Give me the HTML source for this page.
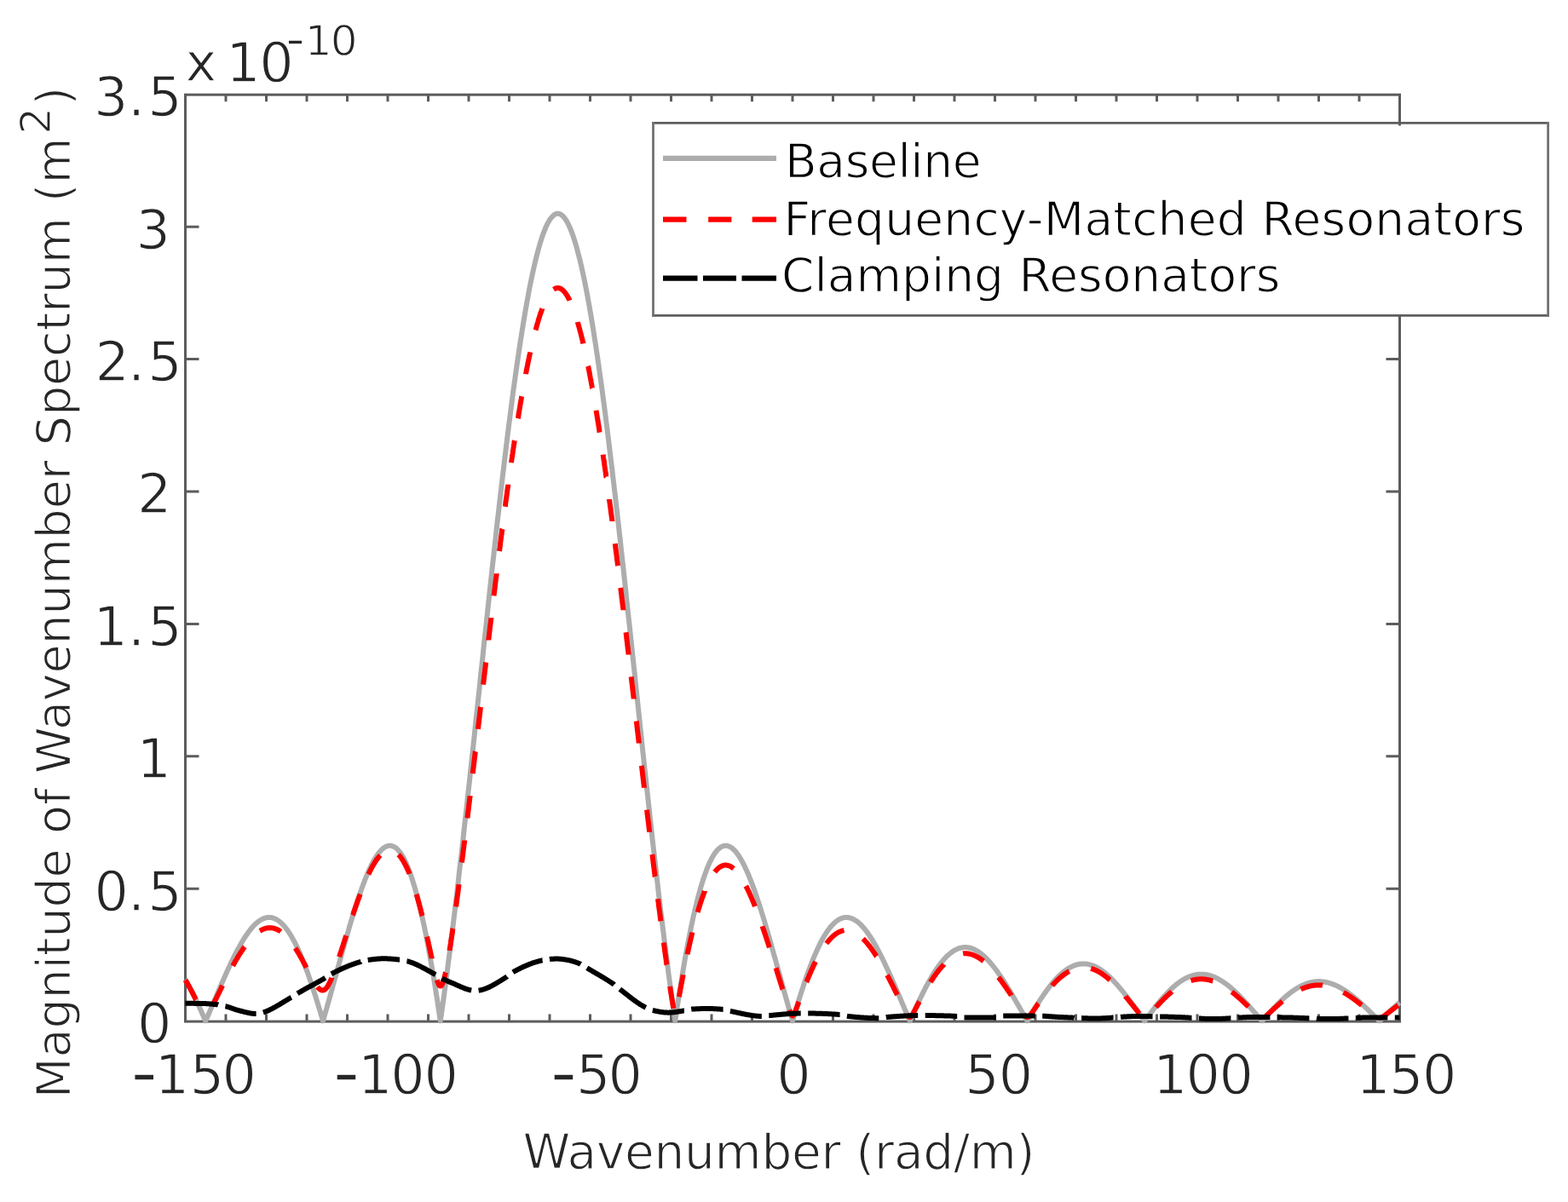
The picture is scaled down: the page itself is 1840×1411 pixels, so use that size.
<!DOCTYPE html>
<html><head><meta charset="utf-8"><title>Wavenumber spectrum</title><style>
html,body{margin:0;padding:0;background:#fff;}
svg{display:block;}
text{font-family:"DejaVu Sans","Liberation Sans",sans-serif;fill:#262626;stroke:#fff;stroke-width:1.3px;}
.lg text{fill:#000;}
</style></head><body>
<svg width="1840" height="1411" viewBox="0 0 1840 1411">
<rect width="1840" height="1411" fill="#fff"/>
<defs><clipPath id="ax"><rect x="214.5" y="108" width="1431" height="1093.6"/></clipPath></defs>
<path d="M265.0,1199.5V1190.5 M265.0,110.5V119.3 M312.5,1199.5V1190.5 M312.5,110.5V119.3 M360.0,1199.5V1190.5 M360.0,110.5V119.3 M407.5,1199.5V1190.5 M407.5,110.5V119.3 M455.0,1199.5V1190.5 M455.0,110.5V119.3 M502.5,1199.5V1190.5 M502.5,110.5V119.3 M550.0,1199.5V1190.5 M550.0,110.5V119.3 M597.5,1199.5V1190.5 M597.5,110.5V119.3 M645.0,1199.5V1190.5 M645.0,110.5V119.3 M692.5,1199.5V1190.5 M692.5,110.5V119.3 M740.0,1199.5V1190.5 M740.0,110.5V119.3 M787.5,1199.5V1190.5 M787.5,110.5V119.3 M835.0,1199.5V1190.5 M835.0,110.5V119.3 M882.5,1199.5V1190.5 M882.5,110.5V119.3 M930.0,1199.5V1190.5 M930.0,110.5V119.3 M977.5,1199.5V1190.5 M977.5,110.5V119.3 M1025.0,1199.5V1190.5 M1025.0,110.5V119.3 M1072.5,1199.5V1190.5 M1072.5,110.5V119.3 M1120.0,1199.5V1190.5 M1120.0,110.5V119.3 M1167.5,1199.5V1190.5 M1167.5,110.5V119.3 M1215.0,1199.5V1190.5 M1215.0,110.5V119.3 M1262.5,1199.5V1190.5 M1262.5,110.5V119.3 M1310.0,1199.5V1190.5 M1310.0,110.5V119.3 M1357.5,1199.5V1190.5 M1357.5,110.5V119.3 M1405.0,1199.5V1190.5 M1405.0,110.5V119.3 M1452.5,1199.5V1190.5 M1452.5,110.5V119.3 M1500.0,1199.5V1190.5 M1500.0,110.5V119.3 M1547.5,1199.5V1190.5 M1547.5,110.5V119.3 M1595.0,1199.5V1190.5 M1595.0,110.5V119.3 M217.0,1043.2H233.5 M1643.0,1043.2H1626.5 M217.0,887.8H233.5 M1643.0,887.8H1626.5 M217.0,732.4H233.5 M1643.0,732.4H1626.5 M217.0,577.0H233.5 M1643.0,577.0H1626.5 M217.0,421.6H233.5 M1643.0,421.6H1626.5 M217.0,266.3H233.5 M1643.0,266.3H1626.5" stroke="#5c5c5c" stroke-width="3" fill="none"/>
<rect x="217.5" y="111.2" width="1425" height="1087.9" fill="none" stroke="#5c5c5c" stroke-width="3"/>
<g clip-path="url(#ax)" fill="none" stroke-linejoin="round">
<path d="M217.5,1149.6 218.4,1151.2 219.4,1152.9 220.3,1154.7 221.3,1156.4 222.2,1158.2 223.2,1160.0 224.2,1161.9 225.1,1163.8 226.1,1165.6 227.0,1167.6 227.9,1169.5 228.9,1171.5 229.8,1173.4 230.8,1175.4 231.8,1177.5 232.7,1179.5 233.7,1181.6 234.6,1183.6 235.6,1185.7 236.5,1187.8 237.4,1190.0 238.4,1192.1 239.3,1194.3 240.3,1196.4 241.2,1198.6 242.2,1196.4 243.2,1194.2 244.1,1192.0 245.1,1189.8 246.0,1187.6 246.9,1185.4 247.9,1183.2 248.8,1180.9 249.8,1178.7 250.8,1176.5 251.7,1174.2 252.7,1172.0 253.6,1169.8 254.6,1167.6 255.5,1165.3 256.4,1163.1 257.4,1160.9 258.3,1158.7 259.3,1156.5 260.2,1154.3 261.2,1152.2 262.2,1150.0 263.1,1147.8 264.1,1145.7 265.0,1143.6 265.9,1141.5 266.9,1139.4 267.8,1137.3 268.8,1135.3 269.8,1133.2 270.7,1131.2 271.7,1129.2 272.6,1127.3 273.6,1125.3 274.5,1123.4 275.4,1121.5 276.4,1119.6 277.3,1117.8 278.3,1116.0 279.2,1114.2 280.2,1112.4 281.2,1110.7 282.1,1109.0 283.1,1107.4 284.0,1105.8 284.9,1104.2 285.9,1102.6 286.8,1101.1 287.8,1099.6 288.8,1098.2 289.7,1096.8 290.7,1095.5 291.6,1094.1 292.6,1092.9 293.5,1091.6 294.4,1090.5 295.4,1089.3 296.3,1088.2 297.3,1087.2 298.2,1086.2 299.2,1085.2 300.2,1084.3 301.1,1083.5 302.1,1082.7 303.0,1081.9 303.9,1081.2 304.9,1080.6 305.8,1080.0 306.8,1079.4 307.8,1078.9 308.7,1078.5 309.7,1078.1 310.6,1077.8 311.6,1077.5 312.5,1077.3 313.4,1077.1 314.4,1077.0 315.3,1076.9 316.3,1076.9 317.2,1077.0 318.2,1077.1 319.2,1077.3 320.1,1077.5 321.1,1077.8 322.0,1078.2 323.0,1078.6 323.9,1079.0 324.8,1079.6 325.8,1080.2 326.8,1080.8 327.7,1081.5 328.7,1082.3 329.6,1083.1 330.5,1084.0 331.5,1084.9 332.5,1085.9 333.4,1087.0 334.3,1088.1 335.3,1089.3 336.2,1090.5 337.2,1091.8 338.2,1093.2 339.1,1094.6 340.0,1096.0 341.0,1097.6 342.0,1099.1 342.9,1100.8 343.8,1102.5 344.8,1104.2 345.8,1106.0 346.7,1107.9 347.7,1109.8 348.6,1111.8 349.5,1113.8 350.5,1115.9 351.5,1118.0 352.4,1120.2 353.3,1122.4 354.3,1124.7 355.2,1127.0 356.2,1129.4 357.2,1131.8 358.1,1134.3 359.0,1136.8 360.0,1139.3 361.0,1141.9 361.9,1144.6 362.8,1147.3 363.8,1150.0 364.8,1152.8 365.7,1155.6 366.7,1158.5 367.6,1161.4 368.5,1164.3 369.5,1167.3 370.5,1170.2 371.4,1173.3 372.3,1176.3 373.3,1179.4 374.2,1182.6 375.2,1185.7 376.2,1188.9 377.1,1192.1 378.1,1195.3 379.0,1198.6 380.0,1195.3 380.9,1192.0 381.8,1188.7 382.8,1185.4 383.8,1182.0 384.7,1178.6 385.7,1175.2 386.6,1171.8 387.6,1168.4 388.5,1165.0 389.5,1161.6 390.4,1158.1 391.3,1154.7 392.3,1151.3 393.2,1147.8 394.2,1144.4 395.2,1140.9 396.1,1137.5 397.1,1134.0 398.0,1130.6 399.0,1127.1 399.9,1123.7 400.8,1120.3 401.8,1116.9 402.8,1113.5 403.7,1110.1 404.7,1106.7 405.6,1103.4 406.6,1100.1 407.5,1096.8 408.5,1093.5 409.4,1090.2 410.3,1087.0 411.3,1083.8 412.2,1080.6 413.2,1077.5 414.2,1074.4 415.1,1071.3 416.1,1068.2 417.0,1065.2 418.0,1062.3 418.9,1059.3 419.8,1056.4 420.8,1053.6 421.8,1050.8 422.7,1048.0 423.7,1045.3 424.6,1042.7 425.6,1040.1 426.5,1037.5 427.5,1035.1 428.4,1032.6 429.3,1030.2 430.3,1027.9 431.2,1025.7 432.2,1023.5 433.2,1021.3 434.1,1019.3 435.1,1017.3 436.0,1015.3 437.0,1013.5 437.9,1011.7 438.8,1009.9 439.8,1008.3 440.8,1006.7 441.7,1005.2 442.7,1003.8 443.6,1002.5 444.6,1001.2 445.5,1000.0 446.5,998.9 447.4,997.9 448.3,997.0 449.3,996.2 450.2,995.4 451.2,994.8 452.2,994.2 453.1,993.7 454.1,993.3 455.0,993.0 456.0,992.8 456.9,992.7 457.8,992.7 458.8,992.8 459.8,993.0 460.7,993.3 461.7,993.6 462.6,994.1 463.6,994.7 464.5,995.4 465.5,996.2 466.4,997.1 467.3,998.1 468.3,999.2 469.2,1000.4 470.2,1001.7 471.2,1003.1 472.1,1004.6 473.1,1006.3 474.0,1008.0 474.9,1009.9 475.9,1011.8 476.8,1013.9 477.8,1016.1 478.8,1018.4 479.7,1020.8 480.7,1023.3 481.6,1025.9 482.6,1028.6 483.5,1031.5 484.4,1034.4 485.4,1037.5 486.3,1040.6 487.3,1043.9 488.2,1047.3 489.2,1050.8 490.2,1054.4 491.1,1058.1 492.1,1062.0 493.0,1065.9 493.9,1070.0 494.9,1074.1 495.8,1078.4 496.8,1082.8 497.8,1087.3 498.7,1091.9 499.7,1096.6 500.6,1101.4 501.6,1106.3 502.5,1111.3 503.4,1116.4 504.4,1121.6 505.3,1127.0 506.3,1132.4 507.2,1137.9 508.2,1143.6 509.2,1149.3 510.1,1155.1 511.1,1161.0 512.0,1167.1 513.0,1173.2 513.9,1179.4 514.8,1185.7 515.8,1192.1 516.8,1198.6 517.7,1192.0 518.7,1185.3 519.6,1178.6 520.6,1171.7 521.5,1164.8 522.5,1157.8 523.4,1150.7 524.4,1143.5 525.3,1136.3 526.2,1128.9 527.2,1121.5 528.2,1114.0 529.1,1106.5 530.0,1098.8 531.0,1091.1 532.0,1083.4 532.9,1075.5 533.9,1067.6 534.8,1059.7 535.8,1051.6 536.7,1043.6 537.7,1035.4 538.6,1027.2 539.5,1018.9 540.5,1010.6 541.5,1002.3 542.4,993.9 543.4,985.4 544.3,976.9 545.2,968.4 546.2,959.8 547.2,951.2 548.1,942.5 549.0,933.8 550.0,925.1 551.0,916.3 551.9,907.5 552.9,898.7 553.8,889.9 554.8,881.0 555.7,872.2 556.7,863.3 557.6,854.4 558.5,845.4 559.5,836.5 560.5,827.5 561.4,818.6 562.4,809.6 563.3,800.7 564.2,791.7 565.2,782.8 566.2,773.8 567.1,764.9 568.0,755.9 569.0,747.0 570.0,738.1 570.9,729.2 571.9,720.3 572.8,711.5 573.8,702.7 574.7,693.9 575.7,685.1 576.6,676.3 577.5,667.6 578.5,658.9 579.5,650.3 580.4,641.7 581.4,633.1 582.3,624.6 583.2,616.1 584.2,607.7 585.2,599.3 586.1,591.0 587.1,582.7 588.0,574.5 589.0,566.4 589.9,558.3 590.9,550.3 591.8,542.3 592.8,534.4 593.7,526.6 594.7,518.8 595.6,511.1 596.6,503.5 597.5,496.0 598.5,488.6 599.4,481.2 600.4,473.9 601.3,466.8 602.2,459.7 603.2,452.6 604.2,445.7 605.1,438.9 606.1,432.2 607.0,425.5 608.0,419.0 608.9,412.6 609.9,406.3 610.8,400.0 611.8,393.9 612.7,387.9 613.7,382.0 614.6,376.2 615.6,370.6 616.5,365.0 617.5,359.6 618.4,354.2 619.4,349.0 620.3,343.9 621.2,339.0 622.2,334.2 623.2,329.4 624.1,324.9 625.1,320.4 626.0,316.1 627.0,311.9 627.9,307.8 628.9,303.9 629.8,300.1 630.8,296.4 631.7,292.9 632.7,289.5 633.6,286.2 634.6,283.1 635.5,280.1 636.5,277.3 637.4,274.6 638.4,272.0 639.3,269.6 640.2,267.3 641.2,265.2 642.2,263.2 643.1,261.4 644.1,259.7 645.0,258.1 646.0,256.7 646.9,255.5 647.9,254.4 648.8,253.4 649.8,252.6 650.7,251.9 651.7,251.4 652.6,251.0 653.6,250.8 654.5,250.7 655.5,250.8 656.4,251.0 657.4,251.4 658.3,251.9 659.2,252.6 660.2,253.4 661.2,254.4 662.1,255.5 663.1,256.7 664.0,258.1 665.0,259.7 665.9,261.4 666.9,263.2 667.8,265.2 668.8,267.3 669.7,269.6 670.7,272.0 671.6,274.6 672.6,277.3 673.5,280.1 674.5,283.1 675.4,286.2 676.4,289.5 677.3,292.9 678.2,296.4 679.2,300.1 680.2,303.9 681.1,307.8 682.1,311.9 683.0,316.1 684.0,320.4 684.9,324.9 685.9,329.4 686.8,334.2 687.8,339.0 688.7,343.9 689.7,349.0 690.6,354.2 691.6,359.6 692.5,365.0 693.5,370.6 694.4,376.2 695.4,382.0 696.3,387.9 697.2,393.9 698.2,400.0 699.2,406.3 700.1,412.6 701.1,419.0 702.0,425.5 703.0,432.2 703.9,438.9 704.9,445.7 705.8,452.6 706.8,459.7 707.7,466.8 708.7,473.9 709.6,481.2 710.6,488.6 711.5,496.0 712.5,503.5 713.4,511.1 714.4,518.8 715.3,526.6 716.2,534.4 717.2,542.3 718.2,550.3 719.1,558.3 720.1,566.4 721.0,574.5 722.0,582.7 722.9,591.0 723.9,599.3 724.8,607.7 725.8,616.1 726.7,624.6 727.7,633.1 728.6,641.7 729.6,650.3 730.5,658.9 731.5,667.6 732.4,676.3 733.4,685.1 734.3,693.9 735.2,702.7 736.2,711.5 737.1,720.3 738.1,729.2 739.1,738.1 740.0,747.0 741.0,755.9 741.9,764.9 742.9,773.8 743.8,782.8 744.8,791.7 745.7,800.7 746.6,809.6 747.6,818.6 748.6,827.5 749.5,836.5 750.5,845.4 751.4,854.4 752.4,863.3 753.3,872.2 754.2,881.0 755.2,889.9 756.1,898.7 757.1,907.5 758.1,916.3 759.0,925.1 760.0,933.8 760.9,942.5 761.9,951.2 762.8,959.8 763.8,968.4 764.7,976.9 765.6,985.4 766.6,993.9 767.6,1002.3 768.5,1010.6 769.5,1018.9 770.4,1027.2 771.4,1035.4 772.3,1043.6 773.2,1051.6 774.2,1059.7 775.1,1067.6 776.1,1075.5 777.1,1083.4 778.0,1091.1 779.0,1098.8 779.9,1106.5 780.9,1114.0 781.8,1121.5 782.8,1128.9 783.7,1136.3 784.6,1143.5 785.6,1150.7 786.6,1157.8 787.5,1164.8 788.5,1171.7 789.4,1178.6 790.4,1185.3 791.3,1192.0 792.2,1198.6 793.2,1192.1 794.1,1185.7 795.1,1179.4 796.1,1173.2 797.0,1167.1 798.0,1161.0 798.9,1155.1 799.9,1149.3 800.8,1143.6 801.8,1137.9 802.7,1132.4 803.6,1127.0 804.6,1121.6 805.6,1116.4 806.5,1111.3 807.5,1106.3 808.4,1101.4 809.4,1096.6 810.3,1091.9 811.2,1087.3 812.2,1082.8 813.1,1078.4 814.1,1074.1 815.1,1070.0 816.0,1065.9 817.0,1062.0 817.9,1058.1 818.9,1054.4 819.8,1050.8 820.8,1047.3 821.7,1043.9 822.6,1040.6 823.6,1037.5 824.6,1034.4 825.5,1031.5 826.5,1028.6 827.4,1025.9 828.4,1023.3 829.3,1020.8 830.2,1018.4 831.2,1016.1 832.1,1013.9 833.1,1011.8 834.1,1009.9 835.0,1008.0 836.0,1006.3 836.9,1004.6 837.9,1003.1 838.8,1001.7 839.8,1000.4 840.7,999.2 841.6,998.1 842.6,997.1 843.6,996.2 844.5,995.4 845.5,994.7 846.4,994.1 847.4,993.6 848.3,993.3 849.2,993.0 850.2,992.8 851.1,992.7 852.1,992.7 853.1,992.8 854.0,993.0 855.0,993.3 855.9,993.7 856.9,994.2 857.8,994.8 858.8,995.4 859.7,996.2 860.6,997.0 861.6,997.9 862.6,998.9 863.5,1000.0 864.5,1001.2 865.4,1002.5 866.4,1003.8 867.3,1005.2 868.2,1006.7 869.2,1008.3 870.1,1009.9 871.1,1011.7 872.1,1013.5 873.0,1015.3 874.0,1017.3 874.9,1019.3 875.9,1021.3 876.8,1023.5 877.8,1025.7 878.7,1027.9 879.6,1030.2 880.6,1032.6 881.6,1035.1 882.5,1037.5 883.5,1040.1 884.4,1042.7 885.4,1045.3 886.3,1048.0 887.2,1050.8 888.2,1053.6 889.1,1056.4 890.1,1059.3 891.1,1062.3 892.0,1065.2 893.0,1068.2 893.9,1071.3 894.9,1074.4 895.8,1077.5 896.8,1080.6 897.7,1083.8 898.6,1087.0 899.6,1090.2 900.6,1093.5 901.5,1096.8 902.5,1100.1 903.4,1103.4 904.4,1106.7 905.3,1110.1 906.2,1113.5 907.2,1116.9 908.1,1120.3 909.1,1123.7 910.1,1127.1 911.0,1130.6 912.0,1134.0 912.9,1137.5 913.9,1140.9 914.8,1144.4 915.8,1147.8 916.7,1151.3 917.6,1154.7 918.6,1158.1 919.6,1161.6 920.5,1165.0 921.5,1168.4 922.4,1171.8 923.4,1175.2 924.3,1178.6 925.2,1182.0 926.2,1185.4 927.1,1188.7 928.1,1192.0 929.1,1195.3 930.0,1198.6 931.0,1195.3 931.9,1192.1 932.9,1188.9 933.8,1185.7 934.8,1182.6 935.7,1179.4 936.6,1176.3 937.6,1173.3 938.6,1170.2 939.5,1167.3 940.5,1164.3 941.4,1161.4 942.4,1158.5 943.3,1155.6 944.2,1152.8 945.2,1150.0 946.1,1147.3 947.1,1144.6 948.1,1141.9 949.0,1139.3 950.0,1136.8 950.9,1134.3 951.9,1131.8 952.8,1129.4 953.8,1127.0 954.7,1124.7 955.6,1122.4 956.6,1120.2 957.6,1118.0 958.5,1115.9 959.5,1113.8 960.4,1111.8 961.4,1109.8 962.3,1107.9 963.2,1106.0 964.2,1104.2 965.1,1102.5 966.1,1100.8 967.1,1099.1 968.0,1097.6 969.0,1096.0 969.9,1094.6 970.9,1093.2 971.8,1091.8 972.8,1090.5 973.7,1089.3 974.6,1088.1 975.6,1087.0 976.6,1085.9 977.5,1084.9 978.5,1084.0 979.4,1083.1 980.4,1082.3 981.3,1081.5 982.2,1080.8 983.2,1080.2 984.1,1079.6 985.1,1079.0 986.1,1078.6 987.0,1078.2 988.0,1077.8 988.9,1077.5 989.9,1077.3 990.8,1077.1 991.8,1077.0 992.7,1076.9 993.6,1076.9 994.6,1077.0 995.6,1077.1 996.5,1077.3 997.5,1077.5 998.4,1077.8 999.4,1078.1 1000.3,1078.5 1001.2,1078.9 1002.2,1079.4 1003.1,1080.0 1004.1,1080.6 1005.1,1081.2 1006.0,1081.9 1007.0,1082.7 1007.9,1083.5 1008.9,1084.3 1009.8,1085.2 1010.8,1086.2 1011.7,1087.2 1012.6,1088.2 1013.6,1089.3 1014.6,1090.5 1015.5,1091.6 1016.5,1092.9 1017.4,1094.1 1018.4,1095.5 1019.3,1096.8 1020.2,1098.2 1021.2,1099.6 1022.1,1101.1 1023.1,1102.6 1024.1,1104.2 1025.0,1105.8 1026.0,1107.4 1026.9,1109.0 1027.9,1110.7 1028.8,1112.4 1029.8,1114.2 1030.7,1116.0 1031.7,1117.8 1032.6,1119.6 1033.6,1121.5 1034.5,1123.4 1035.5,1125.3 1036.4,1127.3 1037.4,1129.2 1038.3,1131.2 1039.2,1133.2 1040.2,1135.3 1041.2,1137.3 1042.1,1139.4 1043.1,1141.5 1044.0,1143.6 1045.0,1145.7 1045.9,1147.8 1046.9,1150.0 1047.8,1152.2 1048.8,1154.3 1049.7,1156.5 1050.7,1158.7 1051.6,1160.9 1052.6,1163.1 1053.5,1165.3 1054.5,1167.6 1055.4,1169.8 1056.4,1172.0 1057.3,1174.2 1058.2,1176.5 1059.2,1178.7 1060.2,1180.9 1061.1,1183.2 1062.1,1185.4 1063.0,1187.6 1064.0,1189.8 1064.9,1192.0 1065.9,1194.2 1066.8,1196.4 1067.8,1198.6 1068.7,1196.4 1069.7,1194.3 1070.6,1192.1 1071.6,1190.0 1072.5,1187.8 1073.5,1185.7 1074.4,1183.6 1075.4,1181.6 1076.3,1179.5 1077.2,1177.5 1078.2,1175.4 1079.2,1173.4 1080.1,1171.5 1081.1,1169.5 1082.0,1167.6 1083.0,1165.6 1083.9,1163.8 1084.9,1161.9 1085.8,1160.0 1086.8,1158.2 1087.7,1156.4 1088.7,1154.7 1089.6,1152.9 1090.6,1151.2 1091.5,1149.6 1092.5,1147.9 1093.4,1146.3 1094.4,1144.7 1095.3,1143.2 1096.2,1141.7 1097.2,1140.2 1098.2,1138.7 1099.1,1137.3 1100.1,1135.9 1101.0,1134.6 1102.0,1133.3 1102.9,1132.0 1103.9,1130.8 1104.8,1129.6 1105.8,1128.4 1106.7,1127.3 1107.7,1126.2 1108.6,1125.1 1109.6,1124.1 1110.5,1123.2 1111.5,1122.2 1112.4,1121.3 1113.4,1120.5 1114.3,1119.7 1115.2,1118.9 1116.2,1118.2 1117.2,1117.5 1118.1,1116.8 1119.1,1116.2 1120.0,1115.7 1121.0,1115.1 1121.9,1114.6 1122.9,1114.2 1123.8,1113.8 1124.8,1113.4 1125.7,1113.1 1126.7,1112.8 1127.6,1112.6 1128.6,1112.4 1129.5,1112.3 1130.5,1112.1 1131.4,1112.1 1132.4,1112.0 1133.3,1112.0 1134.2,1112.1 1135.2,1112.2 1136.2,1112.3 1137.1,1112.5 1138.1,1112.7 1139.0,1112.9 1140.0,1113.2 1140.9,1113.6 1141.9,1113.9 1142.8,1114.3 1143.8,1114.8 1144.7,1115.2 1145.7,1115.8 1146.6,1116.3 1147.6,1116.9 1148.5,1117.5 1149.5,1118.2 1150.4,1118.9 1151.4,1119.6 1152.3,1120.4 1153.2,1121.2 1154.2,1122.0 1155.2,1122.9 1156.1,1123.8 1157.1,1124.7 1158.0,1125.7 1159.0,1126.7 1159.9,1127.7 1160.9,1128.7 1161.8,1129.8 1162.8,1130.9 1163.7,1132.1 1164.7,1133.2 1165.6,1134.4 1166.6,1135.6 1167.5,1136.9 1168.5,1138.1 1169.4,1139.4 1170.4,1140.7 1171.3,1142.0 1172.2,1143.4 1173.2,1144.8 1174.2,1146.2 1175.1,1147.6 1176.1,1149.0 1177.0,1150.5 1178.0,1151.9 1178.9,1153.4 1179.9,1154.9 1180.8,1156.4 1181.8,1158.0 1182.7,1159.5 1183.7,1161.1 1184.6,1162.6 1185.6,1164.2 1186.5,1165.8 1187.5,1167.4 1188.4,1169.0 1189.4,1170.6 1190.3,1172.2 1191.2,1173.9 1192.2,1175.5 1193.2,1177.2 1194.1,1178.8 1195.1,1180.4 1196.0,1182.1 1197.0,1183.8 1197.9,1185.4 1198.9,1187.1 1199.8,1188.7 1200.8,1190.4 1201.7,1192.0 1202.7,1193.7 1203.6,1195.3 1204.6,1197.0 1205.5,1198.6 1206.5,1197.0 1207.4,1195.3 1208.4,1193.7 1209.3,1192.1 1210.2,1190.5 1211.2,1188.9 1212.2,1187.3 1213.1,1185.8 1214.1,1184.2 1215.0,1182.7 1216.0,1181.1 1216.9,1179.6 1217.9,1178.1 1218.8,1176.6 1219.8,1175.1 1220.7,1173.7 1221.7,1172.2 1222.6,1170.8 1223.6,1169.4 1224.5,1168.0 1225.5,1166.6 1226.4,1165.3 1227.4,1163.9 1228.3,1162.6 1229.2,1161.3 1230.2,1160.0 1231.2,1158.8 1232.1,1157.6 1233.1,1156.4 1234.0,1155.2 1235.0,1154.0 1235.9,1152.9 1236.9,1151.8 1237.8,1150.7 1238.8,1149.7 1239.7,1148.7 1240.7,1147.7 1241.6,1146.7 1242.5,1145.7 1243.5,1144.8 1244.5,1143.9 1245.4,1143.1 1246.4,1142.2 1247.3,1141.4 1248.2,1140.7 1249.2,1139.9 1250.2,1139.2 1251.1,1138.5 1252.0,1137.9 1253.0,1137.2 1254.0,1136.7 1254.9,1136.1 1255.9,1135.6 1256.8,1135.1 1257.8,1134.6 1258.7,1134.2 1259.7,1133.8 1260.6,1133.4 1261.5,1133.0 1262.5,1132.7 1263.5,1132.5 1264.4,1132.2 1265.4,1132.0 1266.3,1131.8 1267.2,1131.7 1268.2,1131.5 1269.2,1131.5 1270.1,1131.4 1271.0,1131.4 1272.0,1131.4 1273.0,1131.4 1273.9,1131.5 1274.9,1131.6 1275.8,1131.7 1276.8,1131.9 1277.7,1132.1 1278.7,1132.3 1279.6,1132.6 1280.5,1132.9 1281.5,1133.2 1282.5,1133.5 1283.4,1133.9 1284.4,1134.3 1285.3,1134.7 1286.2,1135.2 1287.2,1135.7 1288.2,1136.2 1289.1,1136.8 1290.0,1137.3 1291.0,1137.9 1292.0,1138.6 1292.9,1139.2 1293.9,1139.9 1294.8,1140.6 1295.8,1141.3 1296.7,1142.1 1297.7,1142.9 1298.6,1143.7 1299.5,1144.5 1300.5,1145.3 1301.5,1146.2 1302.4,1147.1 1303.4,1148.0 1304.3,1149.0 1305.2,1149.9 1306.2,1150.9 1307.2,1151.9 1308.1,1152.9 1309.0,1153.9 1310.0,1155.0 1311.0,1156.1 1311.9,1157.2 1312.9,1158.3 1313.8,1159.4 1314.8,1160.5 1315.7,1161.7 1316.7,1162.8 1317.6,1164.0 1318.5,1165.2 1319.5,1166.4 1320.5,1167.6 1321.4,1168.8 1322.4,1170.0 1323.3,1171.3 1324.2,1172.5 1325.2,1173.8 1326.2,1175.1 1327.1,1176.4 1328.0,1177.6 1329.0,1178.9 1330.0,1180.2 1330.9,1181.5 1331.9,1182.8 1332.8,1184.1 1333.8,1185.4 1334.7,1186.8 1335.7,1188.1 1336.6,1189.4 1337.5,1190.7 1338.5,1192.0 1339.5,1193.3 1340.4,1194.7 1341.4,1196.0 1342.3,1197.3 1343.2,1198.6 1344.2,1197.3 1345.2,1196.0 1346.1,1194.7 1347.0,1193.4 1348.0,1192.1 1349.0,1190.8 1349.9,1189.6 1350.9,1188.3 1351.8,1187.1 1352.8,1185.8 1353.7,1184.6 1354.7,1183.3 1355.6,1182.1 1356.5,1180.9 1357.5,1179.7 1358.5,1178.5 1359.4,1177.4 1360.4,1176.2 1361.3,1175.1 1362.2,1173.9 1363.2,1172.8 1364.2,1171.7 1365.1,1170.6 1366.0,1169.6 1367.0,1168.5 1368.0,1167.5 1368.9,1166.5 1369.9,1165.5 1370.8,1164.5 1371.8,1163.5 1372.7,1162.6 1373.7,1161.7 1374.6,1160.8 1375.5,1159.9 1376.5,1159.0 1377.5,1158.2 1378.4,1157.3 1379.4,1156.5 1380.3,1155.8 1381.2,1155.0 1382.2,1154.3 1383.2,1153.6 1384.1,1152.9 1385.0,1152.2 1386.0,1151.6 1387.0,1151.0 1387.9,1150.4 1388.9,1149.8 1389.8,1149.2 1390.8,1148.7 1391.7,1148.2 1392.7,1147.8 1393.6,1147.3 1394.5,1146.9 1395.5,1146.5 1396.5,1146.1 1397.4,1145.8 1398.4,1145.5 1399.3,1145.2 1400.2,1144.9 1401.2,1144.7 1402.2,1144.4 1403.1,1144.3 1404.0,1144.1 1405.0,1144.0 1406.0,1143.8 1406.9,1143.8 1407.9,1143.7 1408.8,1143.7 1409.8,1143.7 1410.7,1143.7 1411.7,1143.7 1412.6,1143.8 1413.5,1143.9 1414.5,1144.0 1415.5,1144.1 1416.4,1144.3 1417.4,1144.5 1418.3,1144.7 1419.2,1145.0 1420.2,1145.2 1421.2,1145.5 1422.1,1145.8 1423.0,1146.2 1424.0,1146.6 1425.0,1146.9 1425.9,1147.4 1426.9,1147.8 1427.8,1148.3 1428.8,1148.7 1429.7,1149.2 1430.7,1149.8 1431.6,1150.3 1432.5,1150.9 1433.5,1151.5 1434.5,1152.1 1435.4,1152.7 1436.4,1153.4 1437.3,1154.0 1438.2,1154.7 1439.2,1155.4 1440.2,1156.1 1441.1,1156.9 1442.0,1157.6 1443.0,1158.4 1444.0,1159.2 1444.9,1160.0 1445.9,1160.9 1446.8,1161.7 1447.8,1162.6 1448.7,1163.4 1449.7,1164.3 1450.6,1165.2 1451.5,1166.2 1452.5,1167.1 1453.5,1168.0 1454.4,1169.0 1455.4,1169.9 1456.3,1170.9 1457.2,1171.9 1458.2,1172.9 1459.2,1173.9 1460.1,1174.9 1461.0,1176.0 1462.0,1177.0 1463.0,1178.0 1463.9,1179.1 1464.9,1180.1 1465.8,1181.2 1466.8,1182.3 1467.7,1183.3 1468.7,1184.4 1469.6,1185.5 1470.5,1186.6 1471.5,1187.7 1472.5,1188.8 1473.4,1189.8 1474.4,1190.9 1475.3,1192.0 1476.2,1193.1 1477.2,1194.2 1478.2,1195.3 1479.1,1196.4 1480.0,1197.5 1481.0,1198.6 1482.0,1197.5 1482.9,1196.4 1483.9,1195.3 1484.8,1194.3 1485.8,1193.2 1486.7,1192.1 1487.7,1191.1 1488.6,1190.0 1489.5,1189.0 1490.5,1187.9 1491.5,1186.9 1492.4,1185.8 1493.4,1184.8 1494.3,1183.8 1495.2,1182.8 1496.2,1181.8 1497.2,1180.8 1498.1,1179.9 1499.0,1178.9 1500.0,1178.0 1501.0,1177.0 1501.9,1176.1 1502.9,1175.2 1503.8,1174.3 1504.8,1173.4 1505.7,1172.5 1506.7,1171.7 1507.6,1170.8 1508.5,1170.0 1509.5,1169.2 1510.5,1168.4 1511.4,1167.6 1512.4,1166.8 1513.3,1166.1 1514.2,1165.4 1515.2,1164.6 1516.2,1163.9 1517.1,1163.3 1518.0,1162.6 1519.0,1162.0 1520.0,1161.3 1520.9,1160.7 1521.9,1160.1 1522.8,1159.6 1523.8,1159.0 1524.7,1158.5 1525.7,1158.0 1526.6,1157.5 1527.5,1157.0 1528.5,1156.6 1529.5,1156.2 1530.4,1155.8 1531.4,1155.4 1532.3,1155.0 1533.2,1154.7 1534.2,1154.3 1535.2,1154.0 1536.1,1153.8 1537.0,1153.5 1538.0,1153.3 1539.0,1153.1 1539.9,1152.9 1540.9,1152.7 1541.8,1152.6 1542.8,1152.4 1543.7,1152.3 1544.7,1152.2 1545.6,1152.2 1546.5,1152.1 1547.5,1152.1 1548.5,1152.1 1549.4,1152.2 1550.4,1152.2 1551.3,1152.3 1552.2,1152.4 1553.2,1152.5 1554.2,1152.6 1555.1,1152.8 1556.0,1153.0 1557.0,1153.2 1558.0,1153.4 1558.9,1153.6 1559.9,1153.9 1560.8,1154.2 1561.8,1154.5 1562.7,1154.8 1563.7,1155.1 1564.6,1155.5 1565.5,1155.9 1566.5,1156.3 1567.5,1156.7 1568.4,1157.1 1569.4,1157.6 1570.3,1158.1 1571.2,1158.5 1572.2,1159.1 1573.2,1159.6 1574.1,1160.1 1575.0,1160.7 1576.0,1161.3 1577.0,1161.9 1577.9,1162.5 1578.9,1163.1 1579.8,1163.7 1580.8,1164.4 1581.7,1165.1 1582.7,1165.8 1583.6,1166.5 1584.5,1167.2 1585.5,1167.9 1586.5,1168.6 1587.4,1169.4 1588.4,1170.2 1589.3,1170.9 1590.2,1171.7 1591.2,1172.5 1592.2,1173.3 1593.1,1174.1 1594.0,1175.0 1595.0,1175.8 1596.0,1176.7 1596.9,1177.5 1597.9,1178.4 1598.8,1179.3 1599.8,1180.1 1600.7,1181.0 1601.7,1181.9 1602.6,1182.8 1603.5,1183.7 1604.5,1184.6 1605.5,1185.5 1606.4,1186.5 1607.4,1187.4 1608.3,1188.3 1609.2,1189.2 1610.2,1190.2 1611.2,1191.1 1612.1,1192.0 1613.0,1193.0 1614.0,1193.9 1615.0,1194.9 1615.9,1195.8 1616.9,1196.7 1617.8,1197.7 1618.8,1198.6 1619.7,1197.7 1620.7,1196.7 1621.6,1195.8 1622.5,1194.9 1623.5,1194.0 1624.5,1193.0 1625.4,1192.1 1626.4,1191.2 1627.3,1190.3 1628.2,1189.4 1629.2,1188.5 1630.2,1187.6 1631.1,1186.8 1632.0,1185.9 1633.0,1185.0 1634.0,1184.2 1634.9,1183.3 1635.9,1182.5 1636.8,1181.7 1637.8,1180.9 1638.7,1180.0 1639.7,1179.2 1640.6,1178.5 1641.5,1177.7 1642.5,1176.9" stroke="#adadad" stroke-width="6"/>
<path d="M217.5,1150.4 217.8,1150.9 218.1,1151.4 218.4,1152.0 218.7,1152.5 219.0,1153.0 219.4,1153.6 219.7,1154.1 220.0,1154.7 220.3,1155.2 220.6,1155.8 220.9,1156.3 221.2,1156.9 221.5,1157.4 221.8,1158.0 222.1,1158.6 222.4,1159.1 222.7,1159.7 223.1,1160.3 223.3,1160.8 223.6,1161.3 223.9,1161.9 224.2,1162.4 224.5,1162.9 224.8,1163.5 225.1,1164.0 225.3,1164.5 225.6,1165.1 225.9,1165.6 226.2,1166.2 226.5,1166.7 226.8,1167.3 227.0,1167.8 227.3,1168.4 227.6,1168.9 227.9,1169.5 228.2,1170.1 228.5,1170.6 228.8,1171.2 229.0,1171.7 229.3,1172.3 229.6,1172.9 229.9,1173.4 230.0,1173.5 M249.5,1180.5 249.8,1179.9 250.1,1179.3 250.3,1178.8 250.6,1178.2 250.9,1177.6 251.2,1177.1 251.5,1176.5 251.8,1175.9 252.1,1175.4 252.3,1174.8 252.6,1174.2 252.9,1173.6 253.2,1173.1 253.5,1172.5 253.8,1171.9 254.1,1171.3 254.3,1170.7 254.6,1170.2 254.9,1169.6 255.2,1169.0 255.5,1168.4 255.8,1167.9 256.0,1167.3 256.3,1166.7 256.6,1166.1 256.9,1165.5 257.2,1165.0 257.5,1164.4 257.8,1163.8 258.0,1163.2 258.3,1162.7 258.6,1162.1 258.9,1161.5 259.2,1160.9 259.5,1160.3 259.8,1159.8 260.0,1159.2 260.3,1158.6 260.6,1158.0 260.9,1157.5 261.2,1156.9 261.2,1156.9 M273.2,1133.7 273.5,1133.2 273.8,1132.6 274.1,1132.1 274.5,1131.5 274.8,1131.0 275.1,1130.4 275.4,1129.9 275.7,1129.3 276.0,1128.8 276.3,1128.3 276.6,1127.7 276.9,1127.2 277.2,1126.7 277.5,1126.1 277.8,1125.6 278.2,1125.1 278.5,1124.6 278.8,1124.1 279.1,1123.5 279.4,1123.0 279.8,1122.4 280.1,1121.9 280.4,1121.3 280.8,1120.8 281.1,1120.3 281.4,1119.7 281.8,1119.2 282.1,1118.7 282.4,1118.2 282.8,1117.7 283.1,1117.2 283.4,1116.6 283.8,1116.1 284.1,1115.6 284.5,1115.1 284.8,1114.6 285.2,1114.1 285.5,1113.5 285.9,1113.0 286.2,1112.5 286.6,1112.0 286.9,1111.5 287.0,1111.4 M304.9,1092.8 305.5,1092.5 306.0,1092.2 306.5,1091.9 307.1,1091.6 307.6,1091.4 308.2,1091.1 308.7,1090.8 309.3,1090.6 309.9,1090.4 310.5,1090.2 311.1,1090.0 311.6,1089.8 312.2,1089.7 312.8,1089.5 313.4,1089.4 314.0,1089.3 314.6,1089.3 315.3,1089.2 315.9,1089.2 316.5,1089.1 317.1,1089.1 317.7,1089.2 318.3,1089.2 319.0,1089.3 319.6,1089.4 320.2,1089.5 320.8,1089.6 321.4,1089.7 322.0,1089.9 322.5,1090.1 323.1,1090.2 323.7,1090.5 324.3,1090.7 324.8,1090.9 325.4,1091.2 325.9,1091.4 326.5,1091.7 327.0,1092.0 327.5,1092.3 328.1,1092.6 328.6,1093.0 329.1,1093.3 329.5,1093.6 M346.5,1112.9 346.9,1113.5 347.2,1114.0 347.6,1114.5 347.9,1115.0 348.2,1115.6 348.6,1116.1 348.9,1116.7 349.2,1117.2 349.5,1117.8 349.9,1118.3 350.2,1118.8 350.5,1119.3 350.8,1119.8 351.1,1120.4 351.4,1120.9 351.7,1121.4 352.0,1122.0 352.3,1122.5 352.6,1123.1 352.9,1123.6 353.3,1124.2 353.6,1124.7 353.9,1125.3 354.2,1125.8 354.5,1126.4 354.8,1127.0 355.1,1127.5 355.4,1128.1 355.7,1128.7 356.0,1129.2 356.3,1129.7 356.6,1130.2 356.9,1130.8 357.2,1131.3 357.4,1131.9 357.7,1132.4 358.0,1132.9 358.3,1133.5 358.6,1134.0 358.9,1134.6 359.1,1135.1 359.4,1135.6 359.5,1135.8 M372.5,1158.5 372.9,1159.0 373.3,1159.4 373.8,1159.9 374.2,1160.3 374.7,1160.7 375.1,1161.1 375.6,1161.5 376.2,1161.8 376.7,1162.1 377.3,1162.3 377.9,1162.5 378.5,1162.6 379.1,1162.5 379.7,1162.4 380.3,1162.2 380.8,1161.9 381.3,1161.5 381.8,1161.1 382.2,1160.7 382.7,1160.2 383.1,1159.8 383.4,1159.3 383.8,1158.8 384.2,1158.2 384.5,1157.7 384.8,1157.2 385.1,1156.6 385.4,1156.1 385.7,1155.5 386.0,1155.0 386.3,1154.4 386.6,1153.9 386.9,1153.3 387.1,1152.7 387.4,1152.2 387.7,1151.6 387.9,1151.0 388.2,1150.4 388.5,1149.8 388.7,1149.3 388.9,1148.7 389.2,1148.1 389.2,1148.0 M398.1,1123.3 398.3,1122.6 398.5,1122.1 398.7,1121.5 398.9,1120.9 399.0,1120.3 399.2,1119.7 399.4,1119.2 399.6,1118.6 399.8,1118.0 400.0,1117.4 400.2,1116.8 400.4,1116.2 400.6,1115.7 400.8,1115.1 400.9,1114.5 401.1,1113.9 401.3,1113.3 401.5,1112.7 401.7,1112.1 401.9,1111.5 402.1,1110.9 402.3,1110.3 402.5,1109.8 402.7,1109.2 402.8,1108.6 403.0,1108.0 403.2,1107.4 403.4,1106.8 403.6,1106.2 403.8,1105.6 404.0,1105.0 404.2,1104.4 404.4,1103.8 404.6,1103.2 404.7,1102.7 404.9,1102.1 405.1,1101.5 405.3,1100.9 405.5,1100.3 405.7,1099.7 405.9,1099.1 406.1,1098.5 406.2,1098.2 M413.9,1074.4 414.2,1073.8 414.4,1073.1 414.6,1072.5 414.8,1071.9 415.0,1071.2 415.2,1070.6 415.4,1070.0 415.6,1069.3 415.9,1068.7 416.1,1068.1 416.3,1067.5 416.5,1066.9 416.7,1066.2 416.9,1065.6 417.1,1065.0 417.4,1064.4 417.6,1063.8 417.8,1063.2 418.0,1062.5 418.2,1061.9 418.4,1061.3 418.6,1060.7 418.9,1060.1 419.1,1059.5 419.3,1058.9 419.5,1058.3 419.7,1057.7 419.9,1057.1 420.1,1056.5 420.3,1055.9 420.6,1055.3 420.8,1054.8 421.0,1054.2 421.2,1053.6 421.4,1053.0 421.6,1052.4 421.8,1051.9 422.1,1051.3 422.3,1050.7 422.5,1050.1 422.7,1049.6 M432.4,1026.3 432.7,1025.7 432.9,1025.2 433.2,1024.6 433.5,1024.1 433.7,1023.5 434.0,1022.9 434.3,1022.3 434.6,1021.8 434.9,1021.2 435.2,1020.7 435.5,1020.1 435.7,1019.6 436.0,1019.0 436.3,1018.5 436.6,1017.9 436.9,1017.4 437.2,1016.8 437.5,1016.3 437.9,1015.7 438.2,1015.2 438.5,1014.7 438.8,1014.2 439.1,1013.6 439.4,1013.1 439.8,1012.5 440.1,1012.0 440.4,1011.5 440.8,1011.0 441.1,1010.5 441.5,1009.9 441.8,1009.4 442.2,1008.9 442.6,1008.4 442.9,1007.9 443.3,1007.4 443.7,1006.9 444.1,1006.4 444.5,1006.0 444.9,1005.5 445.3,1005.0 445.7,1004.6 446.1,1004.1 446.2,1004.0 M467.7,1003.2 468.1,1003.6 468.5,1004.1 468.9,1004.6 469.3,1005.0 469.7,1005.5 470.1,1006.0 470.4,1006.5 470.8,1007.0 471.2,1007.5 471.5,1008.1 471.9,1008.6 472.2,1009.1 472.5,1009.6 472.9,1010.2 473.2,1010.7 473.5,1011.2 473.8,1011.8 474.1,1012.3 474.4,1012.9 474.7,1013.4 475.0,1014.0 475.3,1014.5 475.6,1015.0 475.9,1015.6 476.2,1016.2 476.4,1016.7 476.7,1017.3 477.0,1017.9 477.3,1018.4 477.5,1019.0 477.8,1019.5 478.0,1020.1 478.3,1020.7 478.6,1021.3 478.8,1021.9 479.1,1022.5 479.3,1023.0 479.6,1023.6 479.8,1024.2 480.0,1024.7 480.3,1025.3 480.5,1025.9 480.5,1025.9 M488.6,1049.8 488.8,1050.4 489.0,1051.0 489.2,1051.7 489.4,1052.3 489.6,1053.0 489.7,1053.6 489.9,1054.1 490.1,1054.7 490.2,1055.3 490.4,1055.9 490.6,1056.5 490.7,1057.1 490.9,1057.7 491.1,1058.3 491.2,1058.9 491.4,1059.5 491.6,1060.1 491.7,1060.7 491.9,1061.3 492.1,1062.0 492.2,1062.6 492.4,1063.2 492.6,1063.8 492.7,1064.5 492.9,1065.1 493.1,1065.7 493.2,1066.4 493.4,1067.0 493.6,1067.6 493.7,1068.3 493.9,1068.9 494.1,1069.6 494.2,1070.2 494.4,1070.9 494.6,1071.6 494.7,1072.2 494.9,1072.9 495.1,1073.6 495.2,1074.2 495.4,1074.9 495.5,1075.2 M501.1,1099.5 501.3,1100.2 501.4,1100.8 501.6,1101.5 501.7,1102.1 501.9,1102.8 502.0,1103.4 502.1,1104.1 502.3,1104.7 502.4,1105.4 502.6,1106.0 502.7,1106.7 502.9,1107.3 503.0,1108.0 503.1,1108.6 503.3,1109.3 503.4,1109.9 503.6,1110.6 503.7,1111.3 503.9,1111.9 504.0,1112.6 504.1,1113.2 504.3,1113.9 504.4,1114.6 504.6,1115.2 504.7,1115.9 504.9,1116.5 505.0,1117.2 505.1,1117.9 505.3,1118.5 505.4,1119.2 505.6,1119.8 505.7,1120.5 505.8,1121.2 506.0,1121.8 506.1,1122.5 506.3,1123.1 506.4,1123.8 506.6,1124.4 506.7,1125.1 506.7,1125.2 M512.8,1150.3 513.0,1150.9 513.1,1151.5 513.4,1152.2 513.6,1152.8 513.8,1153.4 514.0,1154.0 514.3,1154.5 514.5,1155.1 514.8,1155.7 515.1,1156.2 515.5,1156.7 515.9,1157.2 516.4,1157.5 517.0,1157.5 517.6,1157.3 518.0,1156.8 518.4,1156.3 518.7,1155.8 519.0,1155.3 519.2,1154.7 519.5,1154.1 519.7,1153.5 519.9,1152.9 520.1,1152.3 520.3,1151.7 520.5,1151.1 520.7,1150.5 520.9,1149.9 521.0,1149.3 521.2,1148.7 521.4,1148.0 521.5,1147.4 521.7,1146.7 521.8,1146.1 522.0,1145.5 522.1,1144.9 522.3,1144.3 522.4,1143.7 522.5,1143.0 522.7,1142.4 522.8,1141.7 522.9,1141.5 M527.5,1115.9 527.6,1115.2 527.7,1114.5 527.8,1113.9 527.9,1113.3 528.0,1112.7 528.1,1112.1 528.2,1111.5 528.3,1110.9 528.4,1110.3 528.5,1109.7 528.6,1109.1 528.7,1108.5 528.8,1107.9 528.9,1107.3 529.0,1106.7 529.1,1106.0 529.1,1105.4 529.2,1104.8 529.3,1104.2 529.4,1103.6 529.5,1102.9 529.6,1102.3 529.7,1101.7 529.8,1101.1 529.9,1100.4 530.0,1099.8 530.1,1099.2 530.2,1098.5 530.3,1097.9 530.4,1097.3 530.5,1096.6 530.6,1096.0 530.7,1095.4 530.8,1094.7 530.9,1094.1 531.0,1093.4 531.0,1092.8 531.1,1092.1 531.2,1091.5 531.3,1090.8 531.4,1090.2 531.5,1089.9 M535.1,1064.3 535.2,1063.6 535.3,1062.9 535.4,1062.2 535.5,1061.5 535.6,1060.8 535.7,1060.2 535.8,1059.5 535.8,1058.8 535.9,1058.1 536.0,1057.4 536.1,1056.7 536.2,1056.0 536.3,1055.3 536.4,1054.6 536.5,1053.8 536.6,1053.1 536.7,1052.4 536.8,1051.7 536.9,1051.0 537.0,1050.3 537.1,1049.6 537.2,1048.9 537.3,1048.2 537.4,1047.5 537.5,1046.8 537.6,1046.1 537.7,1045.3 537.7,1044.6 537.8,1043.9 537.9,1043.2 538.0,1042.5 538.1,1041.8 538.2,1041.0 538.3,1040.3 538.4,1039.6 538.5,1038.9 538.6,1038.2 M541.9,1012.5 542.0,1011.8 542.1,1011.0 542.2,1010.3 542.3,1009.6 542.4,1008.8 542.5,1008.1 542.6,1007.3 542.7,1006.6 542.8,1005.8 542.9,1005.1 543.0,1004.3 543.1,1003.6 543.2,1002.8 543.3,1002.1 543.4,1001.3 543.4,1000.6 543.5,999.8 543.6,999.1 543.7,998.3 543.8,997.6 543.9,996.8 544.0,996.1 544.1,995.3 544.2,994.5 544.3,993.8 544.4,993.0 544.5,992.3 544.6,991.5 544.7,990.8 544.8,990.0 544.9,989.2 545.0,988.5 545.1,987.7 545.2,987.0 545.2,986.5 M548.4,960.4 548.5,959.7 548.6,958.9 548.7,958.1 548.8,957.3 548.9,956.5 549.0,955.8 549.1,955.0 549.2,954.2 549.3,953.4 549.4,952.7 549.5,951.9 549.6,951.1 549.7,950.3 549.8,949.5 549.9,948.7 550.0,948.0 550.0,947.2 550.1,946.4 550.2,945.6 550.3,944.8 550.4,944.1 550.5,943.3 550.6,942.5 550.7,941.7 550.8,940.9 550.9,940.1 551.0,939.3 551.1,938.6 551.2,937.8 551.3,937.0 551.4,936.2 551.5,935.4 551.6,934.6 551.6,934.3 M554.7,908.1 554.8,907.5 554.9,906.9 555.0,906.3 555.0,905.7 555.1,905.1 555.2,904.5 555.2,903.9 555.3,903.3 555.4,902.7 555.5,902.1 555.5,901.5 555.6,900.9 555.7,900.3 555.7,899.7 555.8,899.1 555.9,898.5 556.0,897.9 556.0,897.3 556.1,896.7 556.2,896.1 556.2,895.5 556.3,894.9 556.4,894.3 556.5,893.7 556.5,893.1 556.6,892.5 556.7,891.9 556.7,891.3 556.8,890.7 556.9,890.1 557.0,889.5 557.0,888.9 557.1,888.3 557.2,887.7 557.2,887.1 557.3,886.5 557.4,885.9 557.5,885.3 557.5,884.7 557.6,884.1 557.7,883.5 557.7,882.9 557.8,882.3 557.9,882.0 M560.9,855.9 561.0,855.2 561.1,854.6 561.2,854.0 561.2,853.3 561.3,852.7 561.4,852.1 561.4,851.5 561.5,850.9 561.6,850.3 561.7,849.7 561.7,849.1 561.8,848.5 561.9,847.9 561.9,847.3 562.0,846.7 562.1,846.1 562.2,845.5 562.2,844.9 562.3,844.3 562.4,843.7 562.4,843.1 562.5,842.5 562.6,841.9 562.7,841.2 562.7,840.6 562.8,840.0 562.9,839.4 562.9,838.8 563.0,838.2 563.1,837.6 563.2,837.0 563.2,836.4 563.3,835.8 563.4,835.2 563.4,834.6 563.5,834.0 563.6,833.4 563.7,832.8 563.7,832.2 563.8,831.6 563.9,831.0 563.9,830.3 564.0,829.8 M567.1,803.6 567.2,802.9 567.2,802.3 567.3,801.7 567.4,801.1 567.5,800.5 567.5,799.9 567.6,799.3 567.7,798.7 567.7,798.1 567.8,797.5 567.9,796.9 568.0,796.2 568.0,795.6 568.1,795.0 568.2,794.4 568.2,793.8 568.3,793.2 568.4,792.6 568.5,792.0 568.5,791.4 568.6,790.8 568.7,790.2 568.7,789.6 568.8,789.0 568.9,788.4 569.0,787.8 569.0,787.2 569.1,786.6 569.2,786.0 569.2,785.4 569.3,784.8 569.4,784.2 569.5,783.6 569.5,783.0 569.6,782.4 569.7,781.8 569.7,781.2 569.8,780.5 569.9,779.9 570.0,779.3 570.0,778.7 570.1,778.1 570.2,777.5 570.2,777.5 M573.3,751.4 573.3,750.7 573.4,750.1 573.5,749.5 573.6,748.9 573.6,748.3 573.7,747.7 573.8,747.1 573.8,746.5 573.9,745.9 574.0,745.3 574.1,744.7 574.1,744.1 574.2,743.5 574.3,742.9 574.3,742.3 574.4,741.7 574.5,741.2 574.6,740.6 574.6,740.0 574.7,739.4 574.8,738.8 574.8,738.2 574.9,737.4 575.0,736.6 575.1,735.8 575.2,735.0 575.3,734.2 575.4,733.4 575.5,732.6 575.6,731.8 575.7,731.0 575.8,730.2 575.9,729.4 576.0,728.7 576.1,727.9 576.2,727.1 576.3,726.3 576.4,725.5 576.4,725.2 M579.5,699.3 579.6,698.6 579.7,697.8 579.8,697.0 579.9,696.3 580.0,695.5 580.1,694.7 580.2,693.9 580.3,693.2 580.4,692.4 580.5,691.6 580.6,690.8 580.7,690.1 580.8,689.3 580.9,688.5 580.9,687.7 581.0,687.0 581.1,686.2 581.2,685.4 581.3,684.6 581.4,683.9 581.5,683.1 581.6,682.3 581.7,681.5 581.8,680.8 581.9,680.0 582.0,679.2 582.1,678.5 582.2,677.7 582.3,676.9 582.4,676.2 582.5,675.4 582.6,674.6 582.7,673.9 582.7,673.2 M586.0,646.9 586.1,646.3 586.2,645.6 586.3,644.8 586.4,644.1 586.5,643.3 586.6,642.6 586.7,641.8 586.8,641.1 586.9,640.3 587.0,639.6 587.0,638.8 587.1,638.1 587.2,637.3 587.3,636.6 587.4,635.9 587.5,635.1 587.6,634.4 587.7,633.6 587.8,632.9 587.9,632.1 588.0,631.4 588.1,630.7 588.2,629.9 588.3,629.2 588.4,628.4 588.5,627.7 588.6,627.0 588.7,626.2 588.8,625.5 588.9,624.8 589.0,624.0 589.0,623.3 589.1,622.6 589.2,621.8 589.3,621.1 589.4,620.9 M592.8,594.8 592.9,594.2 593.0,593.5 593.1,592.8 593.2,592.0 593.2,591.3 593.3,590.6 593.4,589.9 593.5,589.2 593.6,588.5 593.7,587.8 593.8,587.1 593.9,586.4 594.0,585.7 594.1,585.0 594.2,584.3 594.3,583.6 594.4,582.9 594.5,582.2 594.6,581.5 594.7,580.8 594.8,580.1 594.9,579.4 595.0,578.7 595.1,578.0 595.1,577.3 595.2,576.6 595.3,575.9 595.4,575.2 595.5,574.5 595.6,573.8 595.7,573.1 595.8,572.4 595.9,571.8 596.0,571.1 596.1,570.4 596.2,569.7 596.3,569.0 596.3,568.8 M599.9,543.1 600.0,542.4 600.1,541.8 600.2,541.1 600.3,540.5 600.4,539.8 600.5,539.2 600.6,538.5 600.7,537.8 600.8,537.2 600.9,536.5 601.0,535.9 601.1,535.2 601.2,534.6 601.3,533.9 601.4,533.3 601.5,532.7 601.6,532.0 601.7,531.4 601.8,530.7 601.8,530.1 601.9,529.4 602.0,528.8 602.1,528.2 602.2,527.5 602.3,526.9 602.4,526.2 602.5,525.6 602.6,525.0 602.7,524.3 602.8,523.7 602.9,523.1 603.0,522.4 603.1,521.8 603.2,521.2 603.3,520.5 603.4,519.9 603.5,519.3 603.6,518.6 603.7,518.0 603.7,517.4 603.8,517.1 M607.8,491.2 608.0,490.5 608.1,489.8 608.2,489.1 608.3,488.3 608.4,487.6 608.5,486.9 608.7,486.1 608.8,485.4 608.9,484.7 609.0,484.0 609.1,483.3 609.3,482.5 609.4,481.8 609.5,481.1 609.6,480.4 609.7,479.7 609.9,479.0 610.0,478.3 610.1,477.5 610.2,476.8 610.3,476.1 610.4,475.4 610.6,474.7 610.7,474.0 610.8,473.3 610.9,472.6 611.0,471.9 611.2,471.2 611.3,470.5 611.4,469.8 611.5,469.2 611.6,468.5 611.8,467.8 611.9,467.1 612.0,466.4 612.1,465.7 612.2,465.3 M617.0,439.1 617.1,438.4 617.2,437.7 617.4,437.1 617.5,436.5 617.6,435.9 617.7,435.3 617.8,434.7 617.9,434.1 618.1,433.5 618.2,432.9 618.3,432.3 618.4,431.7 618.5,431.1 618.7,430.5 618.8,429.9 618.9,429.3 619.0,428.7 619.2,428.0 619.3,427.3 619.4,426.6 619.6,425.9 619.7,425.2 619.9,424.6 620.0,423.9 620.2,423.2 620.3,422.5 620.4,421.8 620.6,421.1 620.7,420.5 620.9,419.8 621.0,419.1 621.2,418.4 621.3,417.8 621.4,417.1 621.6,416.5 621.7,415.8 621.9,415.1 622.0,414.5 622.2,413.8 622.3,413.3 M628.5,387.5 628.7,386.9 628.8,386.3 629.0,385.6 629.2,385.0 629.3,384.4 629.5,383.8 629.7,383.2 629.8,382.6 630.0,382.0 630.2,381.5 630.3,380.9 630.5,380.3 630.7,379.6 630.9,379.0 631.1,378.3 631.2,377.7 631.4,377.1 631.6,376.4 631.8,375.8 632.0,375.2 632.2,374.6 632.4,374.0 632.6,373.3 632.8,372.7 633.0,372.1 633.1,371.6 633.3,371.0 633.5,370.4 633.7,369.8 633.9,369.2 634.1,368.6 634.3,368.0 634.5,367.3 634.8,366.7 635.0,366.1 635.2,365.5 635.4,364.9 635.6,364.3 635.8,363.7 636.0,363.1 636.3,362.6 636.3,362.4 M649.7,339.7 650.2,339.4 650.8,339.1 651.3,338.8 651.9,338.5 652.5,338.3 653.1,338.2 653.6,338.1 654.3,338.0 654.9,338.1 655.5,338.1 656.1,338.2 656.7,338.4 657.3,338.6 657.8,338.9 658.3,339.2 658.9,339.5 659.4,339.8 659.9,340.2 660.3,340.6 660.8,341.0 661.2,341.5 661.7,341.9 662.1,342.3 662.5,342.8 662.9,343.3 663.3,343.8 663.6,344.3 664.0,344.8 664.4,345.3 664.7,345.8 665.0,346.3 665.4,346.9 665.7,347.4 666.0,347.9 666.3,348.5 666.6,349.0 666.9,349.6 667.2,350.1 667.5,350.7 667.8,351.2 668.1,351.8 668.4,352.4 668.5,352.7 M677.8,377.9 677.9,378.5 678.1,379.2 678.3,379.8 678.5,380.5 678.7,381.1 678.8,381.6 679.0,382.2 679.2,382.8 679.3,383.4 679.5,384.0 679.7,384.6 679.8,385.2 680.0,385.8 680.2,386.4 680.3,387.1 680.5,387.7 680.7,388.3 680.8,388.9 681.0,389.6 681.2,390.2 681.3,390.8 681.5,391.5 681.7,392.1 681.8,392.8 682.0,393.4 682.2,394.1 682.3,394.8 682.5,395.4 682.7,396.1 682.8,396.8 683.0,397.4 683.2,398.1 683.3,398.7 683.5,399.3 683.6,399.9 683.7,400.5 683.9,401.1 684.0,401.7 684.2,402.3 684.3,402.9 684.4,403.4 M690.1,429.8 690.3,430.4 690.4,431.0 690.5,431.6 690.6,432.2 690.7,432.8 690.9,433.4 691.0,434.0 691.1,434.6 691.2,435.2 691.3,435.8 691.5,436.4 691.6,437.1 691.7,437.7 691.8,438.3 691.9,438.9 692.0,439.5 692.2,440.1 692.3,440.7 692.4,441.4 692.5,442.0 692.6,442.6 692.8,443.2 692.9,443.9 693.0,444.5 693.1,445.1 693.2,445.8 693.4,446.4 693.5,447.0 693.6,447.7 693.7,448.3 693.8,449.0 693.9,449.6 694.1,450.3 694.2,450.9 694.3,451.5 694.4,452.2 694.5,452.8 694.7,453.5 694.8,454.2 694.9,454.8 695.0,455.5 695.1,455.7 M699.5,481.7 699.6,482.3 699.8,483.0 699.9,483.8 700.0,484.5 700.1,485.2 700.2,485.9 700.4,486.7 700.5,487.4 700.6,488.1 700.7,488.8 700.8,489.6 701.0,490.3 701.1,491.0 701.2,491.8 701.3,492.5 701.4,493.3 701.5,493.9 701.6,494.4 701.7,495.0 701.8,495.6 701.9,496.2 702.0,496.8 702.1,497.4 702.2,498.0 702.3,498.6 702.4,499.2 702.5,499.8 702.6,500.4 702.7,501.0 702.8,501.6 702.9,502.2 703.0,502.9 703.0,503.5 703.1,504.1 703.2,504.7 703.3,505.3 703.4,505.9 703.5,506.5 703.6,507.1 703.7,507.6 M707.6,533.7 707.7,534.4 707.8,535.1 707.9,535.7 708.0,536.4 708.1,537.0 708.2,537.7 708.3,538.3 708.4,539.0 708.5,539.6 708.6,540.3 708.7,540.9 708.8,541.6 708.9,542.2 709.0,542.9 709.1,543.6 709.1,544.2 709.2,544.9 709.3,545.5 709.4,546.2 709.5,546.9 709.6,547.5 709.7,548.2 709.8,548.9 709.9,549.5 710.0,550.2 710.1,550.9 710.2,551.5 710.3,552.2 710.4,552.9 710.5,553.5 710.6,554.2 710.7,554.9 710.8,555.6 710.9,556.2 711.0,556.9 711.0,557.6 711.1,558.3 711.2,558.9 711.3,559.6 711.4,559.7 M715.0,586.0 715.0,586.6 715.1,587.3 715.2,588.0 715.3,588.7 715.4,589.4 715.5,590.1 715.6,590.8 715.7,591.5 715.8,592.3 715.9,593.0 716.0,593.7 716.1,594.4 716.2,595.1 716.3,595.8 716.4,596.5 716.5,597.2 716.6,598.0 716.7,598.7 716.7,599.4 716.8,600.1 716.9,600.8 717.0,601.5 717.1,602.3 717.2,603.0 717.3,603.7 717.4,604.4 717.5,605.1 717.6,605.9 717.7,606.6 717.8,607.3 717.9,608.0 718.0,608.8 718.1,609.5 718.2,610.2 718.3,610.9 718.4,611.7 718.4,612.1 M721.8,638.1 721.9,638.8 722.0,639.5 722.0,640.3 722.1,641.0 722.2,641.8 722.3,642.5 722.4,643.3 722.5,644.0 722.6,644.8 722.7,645.5 722.8,646.3 722.9,647.0 723.0,647.8 723.1,648.5 723.2,649.3 723.3,650.0 723.4,650.8 723.5,651.5 723.6,652.3 723.7,653.0 723.8,653.8 723.9,654.6 723.9,655.3 724.0,656.1 724.1,656.8 724.2,657.6 724.3,658.4 724.4,659.1 724.5,659.9 724.6,660.6 724.7,661.4 724.8,662.2 724.9,662.9 725.0,663.7 725.1,664.2 M728.2,690.1 728.3,690.7 728.4,691.4 728.5,692.2 728.6,693.0 728.7,693.8 728.8,694.6 728.9,695.3 729.0,696.1 729.1,696.9 729.2,697.7 729.3,698.5 729.4,699.2 729.5,700.0 729.5,700.8 729.6,701.6 729.7,702.4 729.8,703.2 729.9,703.9 730.0,704.7 730.1,705.5 730.2,706.3 730.3,707.1 730.4,707.9 730.5,708.7 730.6,709.4 730.7,710.2 730.8,711.0 730.9,711.8 731.0,712.6 731.1,713.4 731.2,714.2 731.3,715.0 731.4,715.7 731.4,716.2 M734.5,742.3 734.6,742.9 734.7,743.5 734.8,744.1 734.8,744.7 734.9,745.3 735.0,745.9 735.0,746.5 735.1,747.1 735.2,747.7 735.2,748.3 735.3,748.9 735.4,749.5 735.5,750.1 735.5,750.7 735.6,751.3 735.7,751.9 735.7,752.5 735.8,753.1 735.9,753.7 736.0,754.3 736.0,754.9 736.1,755.5 736.2,756.1 736.2,756.7 736.3,757.3 736.4,758.0 736.5,758.6 736.5,759.2 736.6,759.8 736.7,760.4 736.7,761.0 736.8,761.6 736.9,762.2 737.0,762.8 737.0,763.4 737.1,764.0 737.2,764.6 737.2,765.2 737.3,765.8 737.4,766.4 737.5,767.0 737.5,767.6 737.6,768.2 737.6,768.4 M740.7,794.4 740.8,795.1 740.8,795.7 740.9,796.3 741.0,796.9 741.0,797.5 741.1,798.1 741.2,798.7 741.3,799.3 741.3,799.9 741.4,800.5 741.5,801.1 741.5,801.7 741.6,802.4 741.7,803.0 741.8,803.6 741.8,804.2 741.9,804.8 742.0,805.4 742.0,806.0 742.1,806.6 742.2,807.2 742.3,807.8 742.3,808.4 742.4,809.0 742.5,809.7 742.5,810.3 742.6,810.9 742.7,811.5 742.8,812.1 742.8,812.7 742.9,813.3 743.0,813.9 743.0,814.5 743.1,815.1 743.2,815.7 743.3,816.4 743.3,817.0 743.4,817.6 743.5,818.2 743.5,818.8 743.6,819.4 743.7,820.0 743.7,820.5 M746.8,846.5 746.9,847.2 746.9,847.8 747.0,848.4 747.1,849.1 747.1,849.7 747.2,850.3 747.3,850.9 747.4,851.5 747.4,852.1 747.5,852.7 747.6,853.3 747.6,853.9 747.7,854.5 747.8,855.1 747.9,855.8 747.9,856.4 748.0,857.0 748.1,857.6 748.1,858.2 748.2,858.8 748.3,859.4 748.4,860.0 748.4,860.6 748.5,861.2 748.6,861.8 748.6,862.5 748.7,863.1 748.8,863.7 748.9,864.3 748.9,864.9 749.0,865.5 749.1,866.1 749.1,866.7 749.2,867.3 749.3,867.9 749.4,868.5 749.4,869.2 749.5,869.8 749.6,870.4 749.6,871.0 749.7,871.6 749.8,872.2 749.8,872.6 M752.9,898.7 753.0,899.3 753.0,899.9 753.1,900.5 753.2,901.1 753.3,901.7 753.3,902.3 753.4,902.9 753.5,903.5 753.5,904.1 753.6,904.7 753.7,905.3 753.8,905.9 753.8,906.5 753.9,907.2 754.0,907.8 754.0,908.4 754.1,909.0 754.2,909.6 754.2,910.2 754.3,910.8 754.4,911.4 754.5,912.0 754.5,912.6 754.6,913.2 754.7,913.8 754.7,914.4 754.8,915.0 754.9,915.6 755.0,916.2 755.0,916.8 755.1,917.4 755.2,918.0 755.2,918.6 755.3,919.2 755.4,919.8 755.5,920.4 755.5,921.0 755.6,921.6 755.7,922.2 755.7,922.8 755.8,923.4 755.9,924.0 756.0,924.6 756.0,924.8 M759.1,950.7 759.2,951.5 759.3,952.3 759.4,953.1 759.5,953.9 759.5,954.7 759.6,955.5 759.7,956.3 759.8,957.1 759.9,957.8 760.0,958.6 760.1,959.4 760.2,960.2 760.3,961.0 760.4,961.8 760.5,962.6 760.6,963.4 760.7,964.2 760.8,964.9 760.9,965.7 761.0,966.5 761.1,967.3 761.2,968.1 761.3,968.9 761.4,969.7 761.4,970.4 761.5,971.2 761.6,972.0 761.7,972.8 761.8,973.6 761.9,974.4 762.0,975.2 762.1,975.9 762.2,976.7 762.2,976.8 M765.4,1003.0 765.5,1003.7 765.6,1004.4 765.7,1005.2 765.8,1006.0 765.9,1006.8 766.0,1007.5 766.1,1008.3 766.2,1009.1 766.3,1009.8 766.4,1010.6 766.5,1011.4 766.6,1012.1 766.6,1012.9 766.7,1013.6 766.8,1014.4 766.9,1015.2 767.0,1015.9 767.1,1016.7 767.2,1017.5 767.3,1018.2 767.4,1019.0 767.5,1019.7 767.6,1020.5 767.7,1021.3 767.8,1022.0 767.9,1022.8 768.0,1023.5 768.1,1024.3 768.2,1025.0 768.3,1025.8 768.4,1026.6 768.5,1027.3 768.5,1028.1 768.6,1028.8 768.7,1029.1 M772.0,1055.1 772.1,1055.9 772.2,1056.6 772.3,1057.3 772.4,1058.1 772.5,1058.8 772.6,1059.5 772.7,1060.3 772.8,1061.0 772.8,1061.7 772.9,1062.5 773.0,1063.2 773.1,1063.9 773.2,1064.7 773.3,1065.4 773.4,1066.1 773.5,1066.8 773.6,1067.6 773.7,1068.3 773.8,1069.0 773.9,1069.7 774.0,1070.5 774.1,1071.2 774.2,1071.9 774.3,1072.6 774.4,1073.4 774.5,1074.1 774.6,1074.8 774.7,1075.5 774.7,1076.3 774.8,1077.0 774.9,1077.7 775.0,1078.4 775.1,1079.1 775.2,1079.9 775.3,1080.6 775.4,1081.2 M778.8,1106.5 778.9,1107.2 779.0,1107.9 779.1,1108.6 779.2,1109.3 779.3,1109.9 779.4,1110.6 779.5,1111.3 779.6,1112.0 779.7,1112.7 779.8,1113.4 779.9,1114.1 779.9,1114.8 780.0,1115.4 780.1,1116.1 780.2,1116.8 780.3,1117.5 780.4,1118.2 780.5,1118.9 780.6,1119.5 780.7,1120.2 780.8,1120.9 780.9,1121.6 781.0,1122.2 781.1,1122.9 781.2,1123.6 781.3,1124.3 781.4,1124.9 781.5,1125.6 781.6,1126.3 781.7,1127.0 781.8,1127.6 781.8,1128.3 781.9,1129.0 782.0,1129.6 782.1,1130.3 782.2,1131.0 782.3,1131.6 782.4,1132.3 782.5,1132.6 M786.2,1157.8 786.3,1158.5 786.4,1159.1 786.5,1159.7 786.5,1160.4 786.6,1161.0 786.7,1161.6 786.8,1162.2 786.9,1162.8 787.0,1163.4 787.1,1164.1 787.2,1164.7 787.3,1165.3 787.4,1165.9 787.5,1166.5 787.6,1167.1 787.7,1167.7 787.8,1168.3 787.9,1168.9 788.0,1169.5 788.1,1170.1 788.2,1170.7 788.3,1171.4 788.4,1172.2 788.5,1172.9 788.6,1173.6 788.8,1174.3 788.9,1175.0 789.0,1175.8 789.1,1176.5 789.2,1177.2 789.4,1177.9 789.5,1178.5 789.6,1179.2 789.7,1179.9 789.8,1180.6 789.9,1181.2 790.1,1181.8 790.2,1182.5 790.3,1183.1 790.4,1183.7 790.4,1183.8 M796.8,1170.2 796.9,1169.7 797.0,1169.0 797.1,1168.4 797.3,1167.7 797.4,1167.1 797.5,1166.5 797.6,1165.8 797.7,1165.2 797.9,1164.5 798.0,1163.9 798.1,1163.3 798.2,1162.6 798.3,1162.0 798.4,1161.3 798.6,1160.7 798.7,1160.1 798.8,1159.4 798.9,1158.8 799.0,1158.2 799.2,1157.5 799.3,1156.9 799.4,1156.3 799.5,1155.6 799.6,1155.0 799.8,1154.4 799.9,1153.8 800.0,1153.1 800.1,1152.5 800.2,1151.9 800.3,1151.3 800.5,1150.6 800.6,1150.0 800.7,1149.4 800.8,1148.8 800.9,1148.2 801.1,1147.5 801.2,1146.9 801.3,1146.3 801.4,1145.7 801.5,1145.1 801.7,1144.5 801.7,1144.4 M806.6,1120.2 806.7,1119.6 806.9,1118.9 807.0,1118.2 807.1,1117.6 807.3,1116.9 807.4,1116.3 807.6,1115.6 807.7,1114.9 807.9,1114.3 808.0,1113.6 808.1,1113.0 808.3,1112.3 808.4,1111.7 808.6,1111.1 808.7,1110.4 808.9,1109.8 809.0,1109.1 809.1,1108.5 809.3,1107.9 809.4,1107.3 809.6,1106.6 809.7,1106.0 809.8,1105.4 810.0,1104.8 810.1,1104.1 810.3,1103.5 810.4,1102.9 810.6,1102.3 810.7,1101.7 810.8,1101.1 811.0,1100.5 811.1,1099.9 811.3,1099.3 811.4,1098.7 811.6,1098.1 811.7,1097.5 811.8,1096.9 812.0,1096.3 812.1,1095.7 812.3,1095.1 812.4,1094.5 M818.7,1070.9 818.9,1070.2 819.1,1069.6 819.3,1068.9 819.4,1068.3 819.6,1067.6 819.8,1067.0 820.0,1066.4 820.2,1065.8 820.4,1065.1 820.6,1064.5 820.8,1063.9 821.0,1063.3 821.2,1062.7 821.3,1062.1 821.5,1061.5 821.7,1060.9 821.9,1060.3 822.1,1059.7 822.3,1059.2 822.5,1058.6 822.7,1058.0 822.9,1057.4 823.1,1056.8 823.3,1056.2 823.5,1055.5 823.7,1054.9 823.9,1054.3 824.1,1053.7 824.4,1053.1 824.6,1052.5 824.8,1051.9 825.0,1051.3 825.2,1050.7 825.4,1050.1 825.6,1049.6 825.9,1049.0 826.1,1048.4 826.3,1047.9 826.5,1047.2 826.8,1046.6 827.0,1046.0 827.0,1045.9 M838.7,1023.7 839.1,1023.2 839.4,1022.8 839.8,1022.3 840.2,1021.8 840.7,1021.4 841.1,1020.9 841.5,1020.5 842.0,1020.1 842.4,1019.6 842.9,1019.2 843.3,1018.9 843.8,1018.5 844.3,1018.1 844.8,1017.8 845.3,1017.4 845.9,1017.1 846.4,1016.9 846.9,1016.6 847.5,1016.4 848.1,1016.2 848.7,1016.0 849.3,1015.8 849.9,1015.7 850.5,1015.6 851.1,1015.6 851.7,1015.6 852.3,1015.6 853.0,1015.7 853.5,1015.8 854.1,1015.9 854.7,1016.1 855.3,1016.3 855.9,1016.5 856.5,1016.7 857.0,1017.0 857.6,1017.3 858.1,1017.6 858.6,1017.9 859.1,1018.3 859.6,1018.6 860.1,1019.0 860.6,1019.4 861.0,1019.7 M875.3,1040.0 875.6,1040.5 875.9,1041.1 876.2,1041.6 876.4,1042.2 876.7,1042.8 877.0,1043.3 877.3,1043.9 877.6,1044.5 877.8,1045.1 878.1,1045.6 878.4,1046.2 878.6,1046.7 878.9,1047.3 879.2,1047.8 879.4,1048.4 879.7,1049.0 879.9,1049.6 880.2,1050.1 880.5,1050.7 880.7,1051.3 881.0,1051.9 881.2,1052.5 881.5,1053.1 881.8,1053.7 882.0,1054.2 882.2,1054.8 882.5,1055.4 882.7,1055.9 883.0,1056.5 883.2,1057.0 883.4,1057.6 883.7,1058.2 883.9,1058.8 884.1,1059.3 884.4,1059.9 884.6,1060.5 884.9,1061.1 885.1,1061.7 885.3,1062.3 885.6,1062.9 885.8,1063.5 886.0,1064.0 M894.6,1087.2 894.8,1087.9 895.0,1088.5 895.2,1089.1 895.4,1089.7 895.6,1090.3 895.8,1091.0 896.1,1091.6 896.3,1092.2 896.5,1092.8 896.7,1093.5 896.9,1094.1 897.1,1094.7 897.3,1095.4 897.6,1096.0 897.8,1096.6 898.0,1097.3 898.2,1097.9 898.4,1098.6 898.6,1099.1 898.8,1099.7 899.0,1100.3 899.2,1100.8 899.4,1101.4 899.6,1102.0 899.7,1102.6 899.9,1103.1 900.1,1103.7 900.3,1104.3 900.5,1104.9 900.7,1105.5 900.9,1106.0 901.1,1106.6 901.3,1107.2 901.5,1107.8 901.6,1108.4 901.8,1109.0 902.0,1109.5 902.2,1110.1 902.4,1110.7 902.6,1111.3 902.8,1111.9 902.9,1112.2 M910.5,1136.3 910.7,1136.9 910.9,1137.5 911.1,1138.1 911.3,1138.7 911.5,1139.4 911.7,1140.0 911.9,1140.6 912.0,1141.2 912.2,1141.8 912.4,1142.4 912.6,1143.0 912.8,1143.6 913.0,1144.2 913.2,1144.8 913.4,1145.4 913.6,1146.0 913.8,1146.7 913.9,1147.3 914.1,1147.9 914.3,1148.5 914.5,1149.1 914.7,1149.7 914.9,1150.3 915.1,1150.9 915.3,1151.5 915.5,1152.1 915.7,1152.7 915.8,1153.3 916.0,1153.9 916.2,1154.6 916.4,1155.2 916.6,1155.8 916.8,1156.4 917.0,1157.0 917.2,1157.6 917.4,1158.2 917.6,1158.8 917.7,1159.4 917.9,1160.0 918.1,1160.6 918.3,1161.2 918.4,1161.4 M926.3,1185.5 926.5,1186.1 926.7,1186.7 926.9,1187.3 927.2,1187.9 927.4,1188.5 927.6,1189.0 927.9,1189.6 928.2,1190.2 928.5,1190.8 928.8,1191.3 929.1,1191.8 929.6,1192.2 930.2,1192.4 930.7,1192.1 931.1,1191.6 931.4,1191.1 931.7,1190.5 932.0,1190.0 932.3,1189.4 932.5,1188.8 932.8,1188.2 933.0,1187.7 933.3,1187.1 933.5,1186.5 933.8,1185.9 934.0,1185.3 934.2,1184.7 934.5,1184.0 934.7,1183.5 934.9,1182.9 935.1,1182.3 935.3,1181.8 935.5,1181.2 935.7,1180.6 936.0,1180.0 936.2,1179.5 936.4,1178.9 936.6,1178.3 936.8,1177.7 937.0,1177.2 937.2,1176.6 937.5,1176.0 937.5,1176.0 M946.3,1152.8 946.6,1152.3 946.8,1151.7 947.1,1151.1 947.3,1150.5 947.5,1149.9 947.8,1149.4 948.0,1148.8 948.2,1148.2 948.5,1147.7 948.7,1147.1 949.0,1146.5 949.2,1146.0 949.4,1145.4 949.7,1144.9 949.9,1144.3 950.1,1143.7 950.4,1143.1 950.7,1142.5 950.9,1141.9 951.2,1141.4 951.4,1140.8 951.7,1140.2 952.0,1139.6 952.2,1139.0 952.5,1138.4 952.8,1137.8 953.0,1137.3 953.3,1136.7 953.5,1136.1 953.8,1135.6 954.1,1135.0 954.3,1134.5 954.6,1133.9 954.8,1133.3 955.1,1132.8 955.4,1132.3 955.6,1131.7 955.9,1131.1 956.2,1130.5 956.5,1130.0 956.8,1129.4 957.1,1128.8 957.1,1128.8 M969.8,1107.5 970.2,1107.0 970.6,1106.5 971.0,1106.0 971.3,1105.5 971.7,1105.1 972.1,1104.6 972.5,1104.1 972.9,1103.6 973.3,1103.2 973.7,1102.7 974.2,1102.3 974.6,1101.8 975.0,1101.4 975.5,1100.9 975.9,1100.5 976.3,1100.1 976.8,1099.6 977.2,1099.2 977.7,1098.8 978.2,1098.4 978.6,1098.0 979.1,1097.6 979.6,1097.2 980.1,1096.9 980.6,1096.5 981.1,1096.1 981.6,1095.8 982.1,1095.5 982.6,1095.1 983.2,1094.8 983.7,1094.5 984.2,1094.3 984.8,1094.0 985.3,1093.7 985.9,1093.5 986.5,1093.3 987.0,1093.1 987.6,1092.9 988.2,1092.7 988.8,1092.5 989.4,1092.4 990.0,1092.3 990.5,1092.2 M1012.7,1101.9 1013.1,1102.3 1013.5,1102.8 1014.0,1103.2 1014.4,1103.7 1014.8,1104.1 1015.2,1104.6 1015.6,1105.0 1016.0,1105.5 1016.5,1106.0 1016.9,1106.4 1017.3,1106.9 1017.7,1107.4 1018.1,1107.9 1018.4,1108.3 1018.8,1108.8 1019.2,1109.3 1019.6,1109.8 1020.0,1110.2 1020.3,1110.7 1020.7,1111.2 1021.1,1111.7 1021.5,1112.2 1021.9,1112.8 1022.2,1113.3 1022.6,1113.7 1022.9,1114.2 1023.3,1114.7 1023.6,1115.2 1024.0,1115.8 1024.4,1116.3 1024.7,1116.8 1025.1,1117.3 1025.4,1117.8 1025.8,1118.4 1026.1,1118.9 1026.4,1119.4 1026.8,1119.9 1027.1,1120.4 1027.4,1120.9 1027.8,1121.4 1028.1,1122.0 1028.4,1122.5 1028.6,1122.7 M1041.0,1144.6 1041.3,1145.1 1041.6,1145.7 1041.9,1146.2 1042.2,1146.8 1042.5,1147.3 1042.8,1147.8 1043.1,1148.4 1043.3,1148.9 1043.6,1149.5 1043.9,1150.0 1044.2,1150.6 1044.5,1151.2 1044.8,1151.7 1045.0,1152.3 1045.3,1152.8 1045.6,1153.4 1045.9,1153.9 1046.2,1154.5 1046.5,1155.1 1046.8,1155.6 1047.0,1156.2 1047.3,1156.8 1047.6,1157.3 1047.9,1157.9 1048.2,1158.4 1048.5,1159.0 1048.8,1159.6 1049.0,1160.2 1049.3,1160.7 1049.6,1161.3 1049.9,1161.9 1050.2,1162.4 1050.5,1163.0 1050.7,1163.6 1051.0,1164.1 1051.3,1164.7 1051.6,1165.3 1051.9,1165.9 1052.2,1166.4 1052.5,1167.0 1052.7,1167.6 1052.9,1168.0 M1064.7,1190.8 1065.0,1191.3 1065.3,1191.8 1065.7,1192.3 1066.1,1192.8 1066.5,1193.3 1067.0,1193.7 1067.5,1193.9 1068.1,1193.9 1068.7,1193.6 1069.1,1193.1 1069.5,1192.7 1069.9,1192.2 1070.2,1191.7 1070.6,1191.1 1070.9,1190.6 1071.2,1190.1 1071.5,1189.5 1071.8,1189.0 1072.1,1188.4 1072.4,1187.8 1072.7,1187.3 1073.0,1186.7 1073.3,1186.2 1073.6,1185.7 1073.9,1185.1 1074.2,1184.6 1074.4,1184.1 1074.7,1183.5 1075.0,1183.0 1075.3,1182.4 1075.6,1181.9 1075.9,1181.3 1076.2,1180.8 1076.4,1180.2 1076.7,1179.7 1077.0,1179.2 1077.3,1178.6 1077.6,1178.1 1077.9,1177.5 1078.2,1177.0 1078.4,1176.5 1078.7,1175.9 1078.9,1175.6 M1091.9,1152.9 1092.2,1152.4 1092.5,1151.8 1092.9,1151.3 1093.2,1150.8 1093.5,1150.3 1093.9,1149.8 1094.2,1149.3 1094.6,1148.8 1094.9,1148.2 1095.3,1147.7 1095.6,1147.2 1096.0,1146.7 1096.3,1146.2 1096.7,1145.6 1097.1,1145.1 1097.4,1144.6 1097.8,1144.1 1098.1,1143.7 1098.5,1143.2 1098.8,1142.7 1099.2,1142.2 1099.6,1141.7 1100.0,1141.2 1100.4,1140.7 1100.7,1140.2 1101.1,1139.7 1101.5,1139.2 1101.9,1138.7 1102.3,1138.3 1102.6,1137.8 1103.0,1137.3 1103.4,1136.8 1103.8,1136.4 1104.3,1135.9 1104.7,1135.4 1105.1,1135.0 1105.5,1134.5 1105.9,1134.1 1106.3,1133.6 1106.7,1133.1 1107.2,1132.7 1107.6,1132.3 1107.8,1132.0 M1130.1,1119.4 1130.7,1119.3 1131.3,1119.3 1131.9,1119.3 1132.6,1119.3 1133.2,1119.3 1133.8,1119.3 1134.4,1119.3 1135.0,1119.4 1135.7,1119.4 1136.3,1119.5 1136.9,1119.6 1137.5,1119.7 1138.1,1119.9 1138.6,1120.0 1139.2,1120.1 1139.8,1120.3 1140.4,1120.5 1141.0,1120.7 1141.6,1120.9 1142.2,1121.1 1142.7,1121.3 1143.3,1121.6 1143.9,1121.8 1144.4,1122.1 1145.0,1122.3 1145.5,1122.6 1146.1,1122.9 1146.6,1123.2 1147.1,1123.5 1147.7,1123.8 1148.2,1124.1 1148.7,1124.4 1149.2,1124.7 1149.8,1125.1 1150.3,1125.4 1150.8,1125.8 1151.3,1126.1 1151.8,1126.5 1152.3,1126.8 1152.8,1127.2 1153.2,1127.6 1153.7,1128.0 1154.1,1128.3 M1171.7,1147.2 1172.1,1147.7 1172.5,1148.2 1172.8,1148.7 1173.2,1149.2 1173.6,1149.7 1174.0,1150.2 1174.4,1150.7 1174.7,1151.2 1175.1,1151.7 1175.5,1152.2 1175.8,1152.7 1176.2,1153.2 1176.5,1153.6 1176.9,1154.1 1177.2,1154.6 1177.6,1155.1 1178.0,1155.6 1178.3,1156.1 1178.7,1156.7 1179.0,1157.2 1179.4,1157.7 1179.7,1158.2 1180.1,1158.7 1180.4,1159.2 1180.8,1159.7 1181.2,1160.3 1181.5,1160.8 1181.9,1161.3 1182.2,1161.8 1182.6,1162.3 1182.9,1162.9 1183.3,1163.4 1183.7,1163.9 1184.0,1164.5 1184.4,1165.0 1184.7,1165.5 1185.1,1166.0 1185.4,1166.5 1185.7,1167.0 1186.0,1167.5 1186.4,1168.0 1186.7,1168.5 1186.8,1168.7 M1201.5,1190.7 1201.9,1191.2 1202.3,1191.7 1202.7,1192.1 1203.1,1192.6 1203.6,1193.0 1204.0,1193.4 1204.6,1193.7 1205.1,1193.9 1205.7,1193.9 1206.3,1193.8 1206.9,1193.5 1207.4,1193.1 1207.8,1192.7 1208.2,1192.2 1208.6,1191.8 1209.0,1191.3 1209.4,1190.8 1209.8,1190.3 1210.2,1189.8 1210.6,1189.3 1210.9,1188.8 1211.3,1188.3 1211.6,1187.8 1212.0,1187.3 1212.3,1186.8 1212.7,1186.3 1213.1,1185.8 1213.4,1185.3 1213.8,1184.8 1214.1,1184.3 1214.5,1183.7 1214.8,1183.2 1215.2,1182.7 1215.5,1182.2 1215.9,1181.7 1216.3,1181.2 1216.6,1180.7 1217.0,1180.1 1217.3,1179.6 1217.7,1179.1 1218.0,1178.6 1218.4,1178.1 1218.6,1177.9 M1234.7,1157.0 1235.1,1156.5 1235.5,1156.1 1235.9,1155.6 1236.4,1155.2 1236.8,1154.7 1237.2,1154.2 1237.6,1153.8 1238.1,1153.3 1238.5,1152.9 1238.9,1152.5 1239.3,1152.0 1239.8,1151.6 1240.2,1151.2 1240.7,1150.7 1241.1,1150.3 1241.6,1149.9 1242.0,1149.4 1242.5,1149.0 1242.9,1148.6 1243.4,1148.2 1243.8,1147.8 1244.3,1147.4 1244.8,1147.0 1245.3,1146.6 1245.7,1146.2 1246.2,1145.8 1246.7,1145.4 1247.2,1145.1 1247.7,1144.7 1248.2,1144.3 1248.7,1143.9 1249.2,1143.6 1249.7,1143.2 1250.2,1142.9 1250.6,1142.6 1251.2,1142.2 1251.7,1141.9 1252.2,1141.5 1252.7,1141.2 1253.3,1140.9 1253.8,1140.6 1254.3,1140.3 1254.7,1140.1 M1280.2,1136.9 1280.8,1137.1 1281.4,1137.3 1282.0,1137.4 1282.5,1137.6 1283.1,1137.9 1283.7,1138.1 1284.2,1138.3 1284.8,1138.5 1285.4,1138.8 1285.9,1139.0 1286.5,1139.3 1287.0,1139.6 1287.6,1139.8 1288.1,1140.1 1288.7,1140.4 1289.2,1140.7 1289.8,1141.0 1290.3,1141.3 1290.8,1141.6 1291.3,1141.9 1291.9,1142.3 1292.4,1142.6 1292.9,1142.9 1293.4,1143.3 1293.9,1143.6 1294.4,1144.0 1294.9,1144.3 1295.4,1144.7 1295.9,1145.0 1296.4,1145.4 1296.9,1145.8 1297.4,1146.2 1297.9,1146.5 1298.4,1146.9 1298.8,1147.3 1299.3,1147.7 1299.8,1148.1 1300.3,1148.5 1300.7,1148.9 1301.2,1149.3 1301.7,1149.7 1302.1,1150.1 1302.5,1150.4 M1320.6,1169.5 1320.9,1170.0 1321.4,1170.4 1321.8,1170.9 1322.2,1171.4 1322.6,1171.9 1323.0,1172.4 1323.4,1172.9 1323.8,1173.4 1324.2,1173.9 1324.6,1174.3 1324.9,1174.8 1325.3,1175.3 1325.7,1175.7 1326.1,1176.2 1326.5,1176.7 1326.8,1177.1 1327.2,1177.6 1327.6,1178.1 1328.0,1178.6 1328.4,1179.0 1328.7,1179.5 1329.1,1180.0 1329.5,1180.4 1329.9,1180.9 1330.3,1181.4 1330.6,1181.9 1331.0,1182.3 1331.4,1182.8 1331.8,1183.3 1332.2,1183.8 1332.5,1184.2 1332.9,1184.7 1333.3,1185.2 1333.7,1185.7 1334.1,1186.1 1334.4,1186.6 1334.8,1187.1 1335.2,1187.5 1335.6,1188.0 1336.0,1188.5 1336.4,1189.0 1336.8,1189.5 1337.2,1189.9 M1356.5,1182.4 1356.9,1181.9 1357.3,1181.5 1357.8,1181.0 1358.2,1180.5 1358.6,1180.1 1359.0,1179.6 1359.5,1179.2 1359.9,1178.7 1360.3,1178.2 1360.8,1177.8 1361.2,1177.3 1361.6,1176.9 1362.0,1176.4 1362.5,1176.0 1362.9,1175.6 1363.3,1175.1 1363.7,1174.7 1364.2,1174.2 1364.6,1173.8 1365.0,1173.4 1365.5,1172.9 1365.9,1172.5 1366.3,1172.1 1366.8,1171.7 1367.2,1171.2 1367.7,1170.8 1368.1,1170.4 1368.6,1169.9 1369.0,1169.5 1369.5,1169.1 1369.9,1168.7 1370.4,1168.2 1370.8,1167.8 1371.3,1167.4 1371.7,1167.0 1372.2,1166.6 1372.6,1166.2 1373.1,1165.8 1373.6,1165.4 1374.1,1165.0 1374.5,1164.6 1375.0,1164.2 1375.2,1164.0 M1397.5,1151.2 1398.1,1151.0 1398.7,1150.8 1399.3,1150.6 1399.8,1150.5 1400.4,1150.3 1401.0,1150.2 1401.6,1150.1 1402.2,1150.0 1402.8,1149.9 1403.4,1149.8 1404.0,1149.7 1404.6,1149.6 1405.2,1149.5 1405.9,1149.5 1406.5,1149.4 1407.1,1149.4 1407.7,1149.3 1408.3,1149.3 1408.9,1149.3 1409.6,1149.3 1410.2,1149.3 1410.8,1149.3 1411.4,1149.3 1412.0,1149.4 1412.6,1149.4 1413.3,1149.5 1413.9,1149.5 1414.5,1149.6 1415.1,1149.7 1415.7,1149.8 1416.3,1149.9 1416.9,1150.0 1417.5,1150.1 1418.1,1150.2 1418.7,1150.3 1419.3,1150.5 1419.9,1150.6 1420.5,1150.8 1421.1,1150.9 1421.6,1151.1 1422.2,1151.3 1422.8,1151.5 1423.3,1151.6 M1445.4,1164.3 1445.9,1164.7 1446.4,1165.0 1446.8,1165.4 1447.3,1165.8 1447.8,1166.2 1448.3,1166.6 1448.7,1167.0 1449.2,1167.3 1449.7,1167.7 1450.2,1168.1 1450.6,1168.5 1451.1,1169.0 1451.6,1169.4 1452.1,1169.8 1452.5,1170.2 1453.0,1170.6 1453.5,1171.0 1453.9,1171.4 1454.4,1171.8 1454.8,1172.2 1455.3,1172.6 1455.7,1173.0 1456.2,1173.4 1456.6,1173.8 1457.1,1174.2 1457.5,1174.7 1458.0,1175.1 1458.4,1175.5 1458.9,1175.9 1459.3,1176.3 1459.8,1176.8 1460.2,1177.2 1460.7,1177.6 1461.1,1178.1 1461.6,1178.5 1462.0,1178.9 1462.5,1179.4 1462.9,1179.8 1463.4,1180.2 1463.8,1180.7 1464.3,1181.1 1464.7,1181.5 1465.0,1181.8 M1485.2,1192.9 1485.7,1192.5 1486.2,1192.1 1486.7,1191.7 1487.1,1191.3 1487.6,1190.9 1488.0,1190.5 1488.5,1190.1 1488.9,1189.7 1489.4,1189.3 1489.8,1188.8 1490.3,1188.4 1490.7,1188.0 1491.2,1187.6 1491.6,1187.2 1492.1,1186.8 1492.5,1186.3 1493.0,1185.9 1493.4,1185.5 1493.9,1185.1 1494.3,1184.7 1494.8,1184.3 1495.2,1183.8 1495.7,1183.4 1496.2,1183.0 1496.6,1182.6 1497.1,1182.2 1497.5,1181.8 1498.0,1181.4 1498.4,1181.0 1498.9,1180.6 1499.3,1180.2 1499.8,1179.8 1500.2,1179.4 1500.7,1179.0 1501.1,1178.6 1501.6,1178.1 1502.1,1177.7 1502.6,1177.3 1503.0,1176.9 1503.5,1176.5 1504.0,1176.1 1504.5,1175.7 1504.9,1175.4 M1526.5,1161.3 1527.1,1161.0 1527.6,1160.8 1528.2,1160.5 1528.8,1160.3 1529.4,1160.0 1529.9,1159.8 1530.5,1159.6 1531.1,1159.4 1531.6,1159.2 1532.2,1159.0 1532.8,1158.8 1533.4,1158.6 1534.0,1158.4 1534.6,1158.3 1535.2,1158.1 1535.7,1157.9 1536.3,1157.8 1536.9,1157.6 1537.5,1157.5 1538.1,1157.4 1538.7,1157.3 1539.3,1157.2 1539.9,1157.0 1540.5,1156.9 1541.1,1156.9 1541.7,1156.8 1542.3,1156.7 1542.9,1156.6 1543.6,1156.6 1544.2,1156.5 1544.8,1156.5 1545.4,1156.4 1546.0,1156.4 1546.6,1156.4 1547.3,1156.4 1547.9,1156.4 1548.5,1156.4 1549.1,1156.4 1549.7,1156.4 1550.4,1156.5 1551.0,1156.5 1551.6,1156.5 1552.1,1156.6 M1576.5,1164.9 1577.0,1165.2 1577.5,1165.5 1578.0,1165.8 1578.6,1166.1 1579.1,1166.4 1579.6,1166.7 1580.1,1167.0 1580.7,1167.4 1581.2,1167.7 1581.7,1168.0 1582.2,1168.4 1582.7,1168.7 1583.3,1169.1 1583.8,1169.4 1584.3,1169.7 1584.8,1170.1 1585.3,1170.4 1585.8,1170.8 1586.3,1171.1 1586.8,1171.5 1587.3,1171.8 1587.8,1172.2 1588.3,1172.5 1588.8,1172.9 1589.3,1173.3 1589.8,1173.6 1590.3,1174.0 1590.8,1174.4 1591.3,1174.8 1591.8,1175.1 1592.3,1175.5 1592.8,1175.9 1593.2,1176.3 1593.7,1176.6 1594.2,1177.0 1594.7,1177.4 1595.1,1177.8 1595.6,1178.1 1596.1,1178.5 1596.6,1178.9 1597.0,1179.3 1597.5,1179.7 1597.9,1180.0 M1619.0,1194.9 1619.6,1194.8 1620.2,1194.7 1620.8,1194.5 1621.4,1194.2 1621.9,1193.9 1622.5,1193.6 1623.0,1193.3 1623.5,1193.0 1624.0,1192.7 1624.5,1192.3 1625.0,1192.0 1625.5,1191.6 1626.0,1191.2 1626.5,1190.9 1627.0,1190.5 1627.5,1190.1 1628.0,1189.7 1628.5,1189.4 1629.0,1189.0 1629.4,1188.6 1629.9,1188.2 1630.4,1187.9 1630.9,1187.5 1631.3,1187.1 1631.8,1186.8 1632.3,1186.4 1632.8,1186.0 1633.2,1185.7 1633.7,1185.3 1634.2,1184.9 1634.7,1184.5 1635.2,1184.2 1635.7,1183.8 1636.2,1183.4 1636.7,1183.0 1637.2,1182.6 1637.7,1182.3 1638.2,1181.9 1638.7,1181.5 1639.2,1181.2 1639.7,1180.8 1640.1,1180.4 1640.6,1180.1  " stroke="#ff0000" stroke-width="6"/>
<path d="M217.5,1177.8 218.1,1177.8 218.7,1177.8 219.4,1177.8 220.0,1177.8 220.6,1177.8 221.2,1177.8 221.8,1177.8 222.4,1177.8 223.1,1177.8 223.7,1177.8 224.3,1177.8 224.9,1177.8 225.5,1177.8 226.1,1177.8 226.8,1177.8 227.4,1177.8 228.0,1177.9 228.6,1177.9 229.2,1177.9 229.8,1177.9 230.5,1177.9 231.1,1177.9 231.7,1177.9 232.3,1177.9 232.9,1177.9 233.6,1178.0 234.2,1178.0 234.8,1178.0 235.4,1178.0 236.0,1178.0 236.6,1178.0 237.3,1178.0 237.9,1178.0 238.5,1178.1 239.1,1178.1 239.7,1178.1 240.3,1178.1 241.0,1178.1 241.6,1178.1 242.2,1178.2 242.8,1178.2 243.4,1178.2 244.1,1178.3 244.7,1178.3 245.3,1178.4 245.9,1178.4 246.5,1178.5 247.1,1178.5 247.8,1178.6 248.4,1178.6 249.0,1178.7 249.6,1178.7 250.2,1178.8 250.8,1178.9 251.5,1178.9 252.1,1179.0 252.7,1179.1 253.3,1179.1 253.9,1179.2 254.6,1179.3 255.2,1179.3 255.8,1179.4 256.0,1179.5 M264.4,1181.2 265.0,1181.3 265.5,1181.5 266.1,1181.6 266.7,1181.8 267.3,1182.0 267.9,1182.1 268.5,1182.3 269.1,1182.5 269.7,1182.7 270.2,1182.9 270.8,1183.1 271.4,1183.3 272.0,1183.5 272.5,1183.7 273.1,1183.9 273.7,1184.1 274.2,1184.3 274.8,1184.5 275.4,1184.7 275.9,1184.9 276.5,1185.1 277.1,1185.3 277.7,1185.5 278.3,1185.6 278.9,1185.8 279.5,1186.0 280.1,1186.1 280.7,1186.3 281.3,1186.4 281.9,1186.6 282.5,1186.8 283.1,1186.9 283.6,1187.1 284.2,1187.2 284.8,1187.4 285.4,1187.5 286.0,1187.7 286.6,1187.8 287.2,1188.0 287.8,1188.1 288.4,1188.3 289.0,1188.4 289.6,1188.5 290.2,1188.7 290.8,1188.8 291.4,1188.9 292.0,1189.1 292.6,1189.2 293.1,1189.3 293.7,1189.4 294.3,1189.5 294.9,1189.6 295.5,1189.7 296.2,1189.7 296.8,1189.8 297.4,1189.9 298.0,1189.9 298.6,1190.0 299.2,1190.0 299.9,1190.1 300.5,1190.1 300.6,1190.1 M308.9,1188.6 309.5,1188.4 310.1,1188.2 310.6,1188.0 311.2,1187.7 311.8,1187.5 312.3,1187.3 312.9,1187.1 313.5,1186.8 314.0,1186.6 314.6,1186.3 315.2,1186.1 315.7,1185.8 316.3,1185.5 316.8,1185.3 317.3,1185.0 317.9,1184.7 318.4,1184.5 319.0,1184.2 319.5,1183.9 320.1,1183.6 320.6,1183.3 321.2,1183.0 321.7,1182.7 322.3,1182.4 322.8,1182.1 323.4,1181.8 323.9,1181.5 324.4,1181.2 324.9,1180.9 325.4,1180.6 326.0,1180.3 326.5,1180.0 327.0,1179.7 327.5,1179.4 328.1,1179.1 328.6,1178.8 329.1,1178.4 329.6,1178.1 330.1,1177.8 330.7,1177.5 331.2,1177.2 331.7,1176.9 332.2,1176.5 332.8,1176.2 333.3,1175.9 333.8,1175.6 334.3,1175.3 334.8,1174.9 335.4,1174.6 335.9,1174.3 336.4,1174.0 336.9,1173.7 337.5,1173.4 338.0,1173.0 338.5,1172.7 339.0,1172.4 339.6,1172.1 340.1,1171.8 340.6,1171.5 341.1,1171.2 341.6,1170.9 341.8,1170.8 M349.0,1166.2 349.5,1165.9 350.1,1165.6 350.6,1165.3 351.1,1165.0 351.6,1164.7 352.2,1164.4 352.7,1164.1 353.2,1163.8 353.7,1163.5 354.3,1163.2 354.8,1162.9 355.3,1162.6 355.8,1162.3 356.4,1162.0 356.9,1161.6 357.5,1161.3 358.0,1161.0 358.6,1160.7 359.1,1160.4 359.7,1160.1 360.2,1159.8 360.8,1159.5 361.3,1159.2 361.9,1158.9 362.4,1158.6 362.9,1158.3 363.5,1158.1 364.0,1157.8 364.6,1157.5 365.1,1157.2 365.7,1156.9 366.2,1156.6 366.8,1156.3 367.3,1156.0 367.9,1155.7 368.4,1155.4 369.0,1155.1 369.5,1154.8 370.0,1154.5 370.6,1154.2 371.1,1153.9 371.7,1153.6 372.2,1153.3 372.8,1153.0 373.3,1152.7 373.9,1152.4 374.4,1152.1 375.0,1151.8 375.5,1151.5 376.0,1151.2 376.5,1150.9 377.1,1150.6 377.6,1150.3 378.1,1150.0 378.6,1149.7 379.1,1149.4 379.7,1149.0 380.2,1148.7 380.7,1148.4 381.2,1148.1 381.7,1147.8 M388.8,1143.2 389.4,1142.9 389.9,1142.7 390.5,1142.4 391.0,1142.1 391.6,1141.8 392.1,1141.5 392.7,1141.3 393.2,1141.0 393.7,1140.7 394.3,1140.5 394.8,1140.2 395.4,1139.9 395.9,1139.7 396.5,1139.4 397.0,1139.1 397.6,1138.9 398.1,1138.6 398.7,1138.4 399.2,1138.1 399.8,1137.8 400.3,1137.6 400.8,1137.3 401.4,1137.1 402.0,1136.8 402.5,1136.6 403.1,1136.3 403.7,1136.1 404.2,1135.8 404.8,1135.6 405.4,1135.3 406.0,1135.1 406.5,1134.9 407.1,1134.6 407.7,1134.4 408.2,1134.2 408.8,1133.9 409.4,1133.7 409.9,1133.5 410.5,1133.2 411.1,1133.0 411.7,1132.8 412.2,1132.6 412.8,1132.4 413.4,1132.2 413.9,1132.0 414.5,1131.8 415.1,1131.6 415.6,1131.4 416.2,1131.2 416.8,1131.0 417.4,1130.8 417.9,1130.6 418.5,1130.4 419.1,1130.2 419.7,1130.0 420.3,1129.8 420.9,1129.6 421.5,1129.5 422.1,1129.3 422.7,1129.1 423.3,1129.0 423.4,1128.9 M431.7,1127.0 432.3,1126.9 432.9,1126.8 433.5,1126.7 434.1,1126.6 434.8,1126.5 435.4,1126.5 436.0,1126.4 436.6,1126.3 437.2,1126.2 437.9,1126.1 438.5,1126.1 439.1,1126.0 439.7,1125.9 440.3,1125.9 440.9,1125.8 441.6,1125.7 442.2,1125.7 442.8,1125.6 443.4,1125.6 444.0,1125.5 444.6,1125.5 445.3,1125.4 445.9,1125.4 446.5,1125.4 447.1,1125.3 447.7,1125.3 448.3,1125.3 449.0,1125.3 449.6,1125.3 450.2,1125.3 450.8,1125.3 451.4,1125.3 452.1,1125.3 452.7,1125.3 453.3,1125.3 453.9,1125.3 454.5,1125.4 455.1,1125.4 455.8,1125.4 456.4,1125.5 457.0,1125.5 457.6,1125.5 458.2,1125.6 458.8,1125.6 459.5,1125.7 460.1,1125.7 460.7,1125.8 461.3,1125.8 461.9,1125.9 462.6,1126.0 463.2,1126.0 463.8,1126.1 464.4,1126.1 465.0,1126.2 465.6,1126.3 466.3,1126.3 466.9,1126.4 467.5,1126.5 468.1,1126.5 468.7,1126.6 469.0,1126.6 M477.4,1128.2 478.0,1128.3 478.6,1128.5 479.2,1128.7 479.8,1128.8 480.4,1129.0 481.0,1129.2 481.5,1129.4 482.1,1129.6 482.7,1129.8 483.2,1130.0 483.8,1130.2 484.4,1130.4 484.9,1130.6 485.5,1130.9 486.1,1131.1 486.7,1131.3 487.2,1131.6 487.8,1131.8 488.4,1132.1 488.9,1132.3 489.5,1132.6 490.0,1132.9 490.6,1133.1 491.1,1133.4 491.7,1133.6 492.2,1133.9 492.8,1134.2 493.3,1134.5 493.9,1134.7 494.4,1135.0 494.9,1135.3 495.5,1135.6 496.0,1135.9 496.6,1136.2 497.1,1136.4 497.7,1136.7 498.2,1137.0 498.8,1137.3 499.3,1137.6 499.9,1137.9 500.4,1138.2 501.0,1138.5 501.5,1138.8 502.0,1139.1 502.6,1139.4 503.1,1139.7 503.7,1140.0 504.2,1140.3 504.8,1140.6 505.3,1140.9 505.9,1141.2 506.4,1141.5 507.0,1141.8 507.5,1142.1 508.1,1142.4 508.6,1142.7 509.2,1143.0 509.7,1143.3 510.2,1143.6 510.8,1143.9 511.2,1144.1 M518.5,1148.5 519.0,1148.8 519.6,1149.1 520.1,1149.4 520.7,1149.6 521.2,1149.9 521.8,1150.1 522.3,1150.4 522.9,1150.6 523.4,1150.9 524.0,1151.1 524.6,1151.4 525.2,1151.6 525.7,1151.9 526.3,1152.1 526.9,1152.3 527.4,1152.6 528.0,1152.8 528.6,1153.1 529.1,1153.3 529.7,1153.5 530.3,1153.8 530.9,1154.0 531.4,1154.2 532.0,1154.5 532.6,1154.7 533.1,1155.0 533.7,1155.2 534.3,1155.5 534.8,1155.8 535.4,1156.0 536.0,1156.3 536.6,1156.5 537.1,1156.8 537.7,1157.0 538.3,1157.3 538.8,1157.5 539.4,1157.8 540.0,1158.0 540.5,1158.3 541.1,1158.5 541.7,1158.8 542.3,1159.0 542.8,1159.2 543.4,1159.5 544.0,1159.7 544.5,1159.9 545.1,1160.1 545.7,1160.4 546.2,1160.6 546.8,1160.8 547.4,1161.0 548.0,1161.1 548.6,1161.3 549.1,1161.5 549.7,1161.7 550.3,1161.8 550.9,1162.0 551.5,1162.2 552.1,1162.3 552.7,1162.4 553.2,1162.5 M561.6,1162.7 562.2,1162.6 562.8,1162.5 563.4,1162.4 564.0,1162.3 564.6,1162.2 565.2,1162.0 565.8,1161.9 566.4,1161.7 567.0,1161.5 567.6,1161.3 568.1,1161.1 568.7,1160.9 569.3,1160.7 569.9,1160.5 570.4,1160.3 571.0,1160.1 571.6,1159.8 572.1,1159.6 572.7,1159.3 573.3,1159.1 573.8,1158.8 574.4,1158.6 574.9,1158.3 575.5,1158.0 576.0,1157.8 576.6,1157.5 577.1,1157.2 577.6,1156.9 578.2,1156.6 578.7,1156.3 579.3,1156.0 579.8,1155.7 580.4,1155.4 580.9,1155.1 581.4,1154.8 581.9,1154.5 582.4,1154.2 583.0,1153.9 583.5,1153.6 584.0,1153.3 584.5,1153.0 585.1,1152.6 585.6,1152.3 586.1,1152.0 586.6,1151.7 587.1,1151.4 587.7,1151.0 588.2,1150.7 588.7,1150.4 589.2,1150.1 589.8,1149.7 590.3,1149.4 590.8,1149.1 591.3,1148.7 591.8,1148.4 592.4,1148.1 592.9,1147.8 593.4,1147.4 593.9,1147.1 594.5,1146.8 595.0,1146.5 595.1,1146.4 M601.9,1141.3 602.4,1141.0 602.9,1140.6 603.5,1140.3 604.0,1140.0 604.6,1139.7 605.1,1139.5 605.6,1139.2 606.2,1138.9 606.7,1138.6 607.3,1138.3 607.8,1138.0 608.4,1137.7 608.9,1137.5 609.5,1137.2 610.0,1136.9 610.6,1136.6 611.1,1136.4 611.7,1136.1 612.2,1135.8 612.7,1135.6 613.3,1135.3 613.8,1135.1 614.4,1134.8 614.9,1134.6 615.5,1134.3 616.1,1134.1 616.6,1133.8 617.2,1133.6 617.8,1133.3 618.4,1133.1 618.9,1132.8 619.5,1132.6 620.1,1132.4 620.6,1132.1 621.2,1131.9 621.8,1131.7 622.3,1131.5 622.9,1131.3 623.5,1131.1 624.1,1130.8 624.6,1130.6 625.2,1130.4 625.8,1130.2 626.3,1130.1 626.9,1129.9 627.5,1129.7 628.1,1129.5 628.7,1129.3 629.3,1129.1 629.9,1129.0 630.5,1128.8 631.1,1128.6 631.7,1128.5 632.2,1128.3 632.8,1128.2 633.4,1128.0 634.0,1127.9 634.6,1127.7 635.2,1127.6 635.8,1127.5 636.4,1127.3 636.5,1127.3 M644.9,1126.0 645.5,1125.9 646.1,1125.9 646.7,1125.8 647.4,1125.8 648.0,1125.8 648.6,1125.7 649.2,1125.7 649.8,1125.7 650.4,1125.6 651.1,1125.6 651.7,1125.6 652.3,1125.6 652.9,1125.6 653.5,1125.6 654.1,1125.6 654.8,1125.6 655.4,1125.6 656.0,1125.6 656.6,1125.7 657.2,1125.7 657.8,1125.8 658.5,1125.8 659.1,1125.9 659.7,1126.0 660.3,1126.1 660.9,1126.1 661.6,1126.2 662.2,1126.3 662.8,1126.4 663.4,1126.5 664.0,1126.6 664.6,1126.7 665.2,1126.8 665.8,1126.9 666.4,1127.0 667.0,1127.1 667.6,1127.2 668.2,1127.4 668.8,1127.5 669.4,1127.6 670.0,1127.8 670.6,1127.9 671.1,1128.1 671.7,1128.3 672.3,1128.5 672.9,1128.6 673.5,1128.8 674.1,1129.0 674.7,1129.2 675.3,1129.4 675.9,1129.6 676.4,1129.8 677.0,1130.0 677.6,1130.2 678.1,1130.4 678.7,1130.6 679.3,1130.9 679.8,1131.1 680.4,1131.3 681.0,1131.5 681.5,1131.8 M688.8,1136.2 689.3,1136.5 689.8,1136.8 690.3,1137.2 690.9,1137.5 691.4,1137.8 691.9,1138.1 692.4,1138.4 693.0,1138.7 693.5,1139.0 694.0,1139.3 694.5,1139.6 695.0,1140.0 695.6,1140.3 696.1,1140.6 696.6,1140.9 697.1,1141.2 697.7,1141.5 698.2,1141.8 698.7,1142.1 699.2,1142.4 699.7,1142.7 700.3,1143.0 700.8,1143.3 701.3,1143.6 701.8,1143.9 702.4,1144.2 702.9,1144.5 703.4,1144.8 703.9,1145.1 704.4,1145.4 705.0,1145.7 705.5,1146.1 706.0,1146.4 706.5,1146.7 707.1,1147.0 707.6,1147.3 708.1,1147.6 708.6,1147.9 709.1,1148.2 709.7,1148.6 710.2,1148.9 710.7,1149.2 711.2,1149.5 711.8,1149.9 712.3,1150.2 712.8,1150.5 713.3,1150.8 713.9,1151.2 714.4,1151.5 714.9,1151.9 715.4,1152.2 715.9,1152.5 716.5,1152.9 717.0,1153.2 717.5,1153.6 718.0,1153.9 718.5,1154.2 719.0,1154.6 719.5,1154.9 720.0,1155.3 720.5,1155.6 720.7,1155.8 M727.3,1161.1 727.8,1161.5 728.3,1161.9 728.8,1162.3 729.3,1162.6 729.8,1163.0 730.2,1163.4 730.7,1163.7 731.2,1164.1 731.7,1164.5 732.1,1164.9 732.6,1165.2 733.1,1165.6 733.6,1166.0 734.0,1166.3 734.5,1166.7 735.0,1167.1 735.5,1167.5 735.9,1167.8 736.4,1168.2 736.9,1168.6 737.4,1169.0 737.8,1169.3 738.3,1169.7 738.8,1170.1 739.3,1170.4 739.7,1170.8 740.2,1171.2 740.7,1171.6 741.2,1172.0 741.7,1172.3 742.2,1172.7 742.7,1173.1 743.2,1173.5 743.7,1173.8 744.2,1174.2 744.7,1174.6 745.2,1174.9 745.7,1175.3 746.2,1175.6 746.7,1176.0 747.2,1176.3 747.7,1176.7 748.2,1177.0 748.7,1177.4 749.2,1177.7 749.7,1178.0 750.3,1178.4 750.8,1178.7 751.3,1179.1 751.8,1179.4 752.4,1179.7 752.9,1180.0 753.4,1180.3 753.9,1180.6 754.4,1180.9 755.0,1181.2 755.5,1181.5 756.1,1181.8 756.6,1182.1 757.2,1182.4 757.7,1182.7 757.9,1182.8 M765.8,1186.0 766.3,1186.1 766.9,1186.2 767.5,1186.4 768.1,1186.5 768.7,1186.6 769.3,1186.8 769.9,1186.9 770.5,1187.0 771.1,1187.1 771.7,1187.2 772.3,1187.4 772.9,1187.5 773.5,1187.6 774.1,1187.7 774.7,1187.8 775.2,1187.9 775.8,1188.0 776.4,1188.1 777.0,1188.1 777.7,1188.2 778.3,1188.3 778.9,1188.4 779.5,1188.4 780.1,1188.5 780.8,1188.5 781.4,1188.6 782.0,1188.6 782.6,1188.6 783.2,1188.6 783.8,1188.7 784.5,1188.7 785.1,1188.6 785.7,1188.6 786.3,1188.6 786.9,1188.6 787.5,1188.5 788.2,1188.5 788.8,1188.4 789.4,1188.4 790.0,1188.3 790.6,1188.3 791.3,1188.2 791.9,1188.1 792.5,1188.0 793.1,1188.0 793.7,1187.9 794.3,1187.8 794.9,1187.7 795.5,1187.6 796.1,1187.5 796.7,1187.4 797.3,1187.3 797.9,1187.2 798.5,1187.1 799.1,1187.0 799.7,1186.9 800.3,1186.8 800.8,1186.7 801.4,1186.6 802.0,1186.5 802.6,1186.4 802.9,1186.4 M811.2,1184.7 811.8,1184.6 812.4,1184.6 813.0,1184.6 813.6,1184.5 814.3,1184.5 814.9,1184.5 815.5,1184.4 816.1,1184.4 816.7,1184.3 817.4,1184.3 818.0,1184.3 818.6,1184.3 819.2,1184.2 819.8,1184.2 820.4,1184.2 821.1,1184.2 821.7,1184.1 822.3,1184.1 822.9,1184.1 823.5,1184.1 824.1,1184.1 824.8,1184.0 825.4,1184.0 826.0,1184.0 826.6,1184.0 827.2,1184.0 827.9,1184.0 828.5,1184.0 829.1,1184.0 829.7,1184.0 830.3,1184.0 830.9,1184.0 831.6,1184.0 832.2,1184.0 832.8,1184.0 833.4,1184.0 834.0,1184.0 834.6,1184.1 835.3,1184.1 835.9,1184.1 836.5,1184.1 837.1,1184.1 837.7,1184.2 838.3,1184.2 839.0,1184.2 839.6,1184.3 840.2,1184.3 840.8,1184.3 841.4,1184.4 842.1,1184.4 842.7,1184.5 843.3,1184.5 843.9,1184.5 844.5,1184.6 845.1,1184.6 845.8,1184.7 846.4,1184.7 847.0,1184.8 847.6,1184.8 848.2,1184.9 848.6,1184.9 M856.9,1186.9 857.5,1187.0 858.1,1187.2 858.7,1187.3 859.3,1187.4 859.9,1187.5 860.5,1187.6 861.1,1187.8 861.6,1187.9 862.2,1188.0 862.8,1188.2 863.4,1188.3 864.0,1188.4 864.6,1188.5 865.2,1188.7 865.8,1188.8 866.4,1188.9 867.0,1189.1 867.6,1189.2 868.2,1189.3 868.8,1189.4 869.4,1189.6 870.0,1189.7 870.6,1189.8 871.1,1189.9 871.7,1190.1 872.3,1190.2 872.9,1190.3 873.5,1190.4 874.1,1190.6 874.7,1190.7 875.3,1190.8 875.9,1190.9 876.5,1191.0 877.1,1191.1 877.7,1191.2 878.3,1191.3 878.9,1191.4 879.5,1191.5 880.1,1191.6 880.6,1191.7 881.2,1191.8 881.8,1191.9 882.4,1192.0 883.0,1192.1 883.7,1192.2 884.3,1192.3 884.9,1192.3 885.5,1192.4 886.1,1192.5 886.8,1192.6 887.4,1192.6 888.0,1192.7 888.6,1192.7 889.2,1192.8 889.8,1192.8 890.5,1192.9 891.1,1192.9 891.7,1192.9 892.3,1193.0 892.9,1193.0 893.5,1193.0 893.8,1193.0 M902.3,1192.1 902.9,1192.1 903.5,1192.0 904.1,1192.0 904.7,1191.9 905.3,1191.9 906.0,1191.8 906.6,1191.7 907.2,1191.7 907.8,1191.6 908.4,1191.6 909.1,1191.5 909.7,1191.5 910.3,1191.4 910.9,1191.3 911.5,1191.3 912.1,1191.2 912.8,1191.2 913.4,1191.1 914.0,1191.1 914.6,1191.0 915.2,1190.9 915.8,1190.9 916.5,1190.8 917.1,1190.8 917.7,1190.7 918.3,1190.7 918.9,1190.6 919.6,1190.6 920.2,1190.5 920.8,1190.5 921.4,1190.4 922.0,1190.4 922.6,1190.3 923.3,1190.3 923.9,1190.2 924.5,1190.2 925.1,1190.1 925.7,1190.1 926.3,1190.1 927.0,1190.0 927.6,1190.0 928.2,1190.0 928.8,1189.9 929.4,1189.9 930.0,1189.9 930.7,1189.8 931.3,1189.8 931.9,1189.8 932.5,1189.7 933.1,1189.7 933.8,1189.7 934.4,1189.7 935.0,1189.7 935.6,1189.6 936.2,1189.6 936.8,1189.6 937.5,1189.6 938.1,1189.6 938.7,1189.6 939.3,1189.6 939.7,1189.6 M948.2,1189.6 948.8,1189.6 949.4,1189.6 950.0,1189.6 950.6,1189.6 951.3,1189.6 951.9,1189.6 952.5,1189.6 953.1,1189.6 953.7,1189.6 954.3,1189.6 955.0,1189.6 955.6,1189.6 956.2,1189.6 956.8,1189.6 957.4,1189.7 958.0,1189.7 958.7,1189.7 959.3,1189.7 959.9,1189.7 960.5,1189.7 961.1,1189.7 961.8,1189.7 962.4,1189.8 963.0,1189.8 963.6,1189.8 964.2,1189.8 964.8,1189.8 965.5,1189.9 966.1,1189.9 966.7,1189.9 967.3,1189.9 967.9,1190.0 968.5,1190.0 969.2,1190.0 969.8,1190.0 970.4,1190.1 971.0,1190.1 971.6,1190.1 972.3,1190.2 972.9,1190.2 973.5,1190.2 974.1,1190.3 974.7,1190.3 975.3,1190.3 976.0,1190.4 976.6,1190.4 977.2,1190.4 977.8,1190.5 978.4,1190.5 979.0,1190.5 979.7,1190.6 980.3,1190.6 980.9,1190.7 981.5,1190.7 982.1,1190.8 982.7,1190.8 983.4,1190.9 984.0,1190.9 984.6,1190.9 985.2,1191.0 985.6,1191.0 M993.9,1192.8 994.5,1192.9 995.1,1193.0 995.8,1193.1 996.4,1193.1 997.0,1193.2 997.6,1193.3 998.2,1193.3 998.9,1193.4 999.5,1193.5 1000.1,1193.5 1000.7,1193.6 1001.3,1193.6 1001.9,1193.7 1002.6,1193.8 1003.2,1193.8 1003.8,1193.9 1004.4,1193.9 1005.0,1194.0 1005.6,1194.0 1006.3,1194.1 1006.9,1194.1 1007.5,1194.2 1008.1,1194.2 1008.7,1194.3 1009.3,1194.3 1010.0,1194.4 1010.6,1194.4 1011.2,1194.5 1011.8,1194.5 1012.4,1194.5 1013.1,1194.6 1013.7,1194.6 1014.3,1194.7 1014.9,1194.7 1015.5,1194.7 1016.1,1194.8 1016.8,1194.8 1017.4,1194.8 1018.0,1194.9 1018.6,1194.9 1019.2,1194.9 1019.8,1194.9 1020.5,1195.0 1021.1,1195.0 1021.7,1195.0 1022.3,1195.0 1022.9,1195.1 1023.6,1195.1 1024.2,1195.1 1024.8,1195.1 1025.4,1195.1 1026.0,1195.1 1026.6,1195.1 1027.3,1195.2 1027.9,1195.2 1028.5,1195.2 1029.1,1195.2 1029.7,1195.2 1030.3,1195.2 1031.0,1195.2 1031.3,1195.2 M1039.8,1194.1 1040.4,1194.0 1041.0,1194.0 1041.6,1193.9 1042.2,1193.9 1042.8,1193.8 1043.5,1193.8 1044.1,1193.7 1044.7,1193.7 1045.3,1193.6 1045.9,1193.6 1046.5,1193.5 1047.2,1193.5 1047.8,1193.4 1048.4,1193.4 1049.0,1193.3 1049.6,1193.3 1050.2,1193.3 1050.9,1193.2 1051.5,1193.2 1052.1,1193.1 1052.7,1193.1 1053.3,1193.0 1054.0,1193.0 1054.6,1193.0 1055.2,1192.9 1055.8,1192.9 1056.4,1192.8 1057.0,1192.8 1057.7,1192.8 1058.3,1192.7 1058.9,1192.7 1059.5,1192.7 1060.1,1192.6 1060.7,1192.6 1061.4,1192.6 1062.0,1192.5 1062.6,1192.5 1063.2,1192.5 1063.8,1192.4 1064.4,1192.4 1065.1,1192.4 1065.7,1192.3 1066.3,1192.3 1066.9,1192.3 1067.5,1192.3 1068.2,1192.3 1068.8,1192.2 1069.4,1192.2 1070.0,1192.2 1070.6,1192.2 1071.2,1192.2 1071.9,1192.1 1072.5,1192.1 1073.1,1192.1 1073.7,1192.1 1074.3,1192.1 1074.9,1192.1 1075.6,1192.1 1076.2,1192.1 1076.8,1192.1 1077.2,1192.1 M1085.7,1192.1 1086.3,1192.1 1086.9,1192.1 1087.5,1192.1 1088.2,1192.1 1088.8,1192.1 1089.4,1192.1 1090.0,1192.1 1090.6,1192.1 1091.2,1192.1 1091.9,1192.1 1092.5,1192.1 1093.1,1192.1 1093.7,1192.1 1094.3,1192.1 1094.9,1192.1 1095.6,1192.1 1096.2,1192.1 1096.8,1192.1 1097.4,1192.1 1098.0,1192.2 1098.6,1192.2 1099.3,1192.2 1099.9,1192.2 1100.5,1192.2 1101.1,1192.2 1101.7,1192.2 1102.4,1192.2 1103.0,1192.2 1103.6,1192.3 1104.2,1192.3 1104.8,1192.3 1105.4,1192.3 1106.1,1192.3 1106.7,1192.3 1107.3,1192.4 1107.9,1192.4 1108.5,1192.4 1109.1,1192.4 1109.8,1192.4 1110.4,1192.4 1111.0,1192.5 1111.6,1192.5 1112.2,1192.5 1112.9,1192.5 1113.5,1192.5 1114.1,1192.6 1114.7,1192.6 1115.3,1192.6 1115.9,1192.6 1116.6,1192.7 1117.2,1192.7 1117.8,1192.7 1118.4,1192.7 1119.0,1192.8 1119.6,1192.8 1120.3,1192.8 1120.9,1192.9 1121.5,1192.9 1122.1,1192.9 1122.7,1193.0 1123.2,1193.0 M1131.5,1194.6 1132.1,1194.6 1132.7,1194.6 1133.3,1194.6 1134.0,1194.6 1134.6,1194.6 1135.2,1194.6 1135.8,1194.6 1136.4,1194.6 1137.1,1194.6 1137.7,1194.6 1138.3,1194.6 1138.9,1194.6 1139.5,1194.6 1140.1,1194.6 1140.8,1194.6 1141.4,1194.6 1142.0,1194.6 1142.6,1194.6 1143.2,1194.6 1143.8,1194.6 1144.5,1194.6 1145.1,1194.6 1145.7,1194.6 1146.3,1194.6 1146.9,1194.6 1147.6,1194.6 1148.2,1194.6 1148.8,1194.6 1149.4,1194.6 1150.0,1194.6 1150.6,1194.6 1151.3,1194.6 1151.9,1194.6 1152.5,1194.6 1153.1,1194.6 1153.7,1194.6 1154.3,1194.6 1155.0,1194.6 1155.6,1194.6 1156.2,1194.6 1156.8,1194.6 1157.4,1194.6 1158.0,1194.6 1158.7,1194.6 1159.3,1194.6 1159.9,1194.6 1160.5,1194.6 1161.1,1194.6 1161.8,1194.6 1162.4,1194.6 1163.0,1194.6 1163.6,1194.6 1164.2,1194.6 1164.8,1194.6 1165.5,1194.6 1166.1,1194.6 1166.7,1194.6 1167.3,1194.6 1167.9,1194.6 1168.5,1194.6 1169.0,1194.6 M1177.2,1192.4 1177.8,1192.4 1178.4,1192.4 1179.0,1192.4 1179.6,1192.4 1180.3,1192.4 1180.9,1192.4 1181.5,1192.4 1182.1,1192.4 1182.7,1192.4 1183.3,1192.4 1184.0,1192.4 1184.6,1192.4 1185.2,1192.4 1185.8,1192.4 1186.4,1192.4 1187.0,1192.4 1187.7,1192.4 1188.3,1192.4 1188.9,1192.4 1189.5,1192.4 1190.1,1192.4 1190.8,1192.4 1191.4,1192.4 1192.0,1192.4 1192.6,1192.4 1193.2,1192.4 1193.8,1192.4 1194.5,1192.4 1195.1,1192.4 1195.7,1192.4 1196.3,1192.4 1196.9,1192.4 1197.5,1192.4 1198.2,1192.4 1198.8,1192.4 1199.4,1192.4 1200.0,1192.4 1200.6,1192.4 1201.2,1192.4 1201.9,1192.4 1202.5,1192.4 1203.1,1192.4 1203.7,1192.4 1204.3,1192.4 1205.0,1192.4 1205.6,1192.4 1206.2,1192.4 1206.8,1192.4 1207.4,1192.4 1208.0,1192.4 1208.7,1192.4 1209.3,1192.4 1209.9,1192.4 1210.5,1192.4 1211.1,1192.4 1211.7,1192.4 1212.4,1192.4 1213.0,1192.4 1213.6,1192.4 1214.2,1192.4 1214.7,1192.4 M1223.2,1192.7 1223.8,1192.7 1224.4,1192.7 1225.0,1192.8 1225.6,1192.8 1226.3,1192.8 1226.9,1192.9 1227.5,1192.9 1228.1,1193.0 1228.7,1193.0 1229.3,1193.0 1230.0,1193.1 1230.6,1193.1 1231.2,1193.2 1231.8,1193.2 1232.4,1193.3 1233.1,1193.3 1233.7,1193.3 1234.3,1193.4 1234.9,1193.4 1235.5,1193.5 1236.1,1193.5 1236.8,1193.6 1237.4,1193.6 1238.0,1193.6 1238.6,1193.7 1239.2,1193.7 1239.8,1193.8 1240.5,1193.8 1241.1,1193.8 1241.7,1193.9 1242.3,1193.9 1242.9,1193.9 1243.5,1193.9 1244.2,1194.0 1244.8,1194.0 1245.4,1194.0 1246.0,1194.1 1246.6,1194.1 1247.3,1194.1 1247.9,1194.1 1248.5,1194.2 1249.1,1194.2 1249.7,1194.2 1250.3,1194.3 1251.0,1194.3 1251.6,1194.3 1252.2,1194.3 1252.8,1194.4 1253.4,1194.4 1254.0,1194.4 1254.7,1194.5 1255.3,1194.5 1255.9,1194.5 1256.5,1194.6 1257.1,1194.6 1257.8,1194.6 1258.4,1194.6 1259.0,1194.7 1259.6,1194.7 1260.2,1194.7 1260.6,1194.8 M1269.1,1195.1 1269.7,1195.1 1270.3,1195.2 1271.0,1195.2 1271.6,1195.2 1272.2,1195.2 1272.8,1195.3 1273.4,1195.3 1274.0,1195.3 1274.7,1195.3 1275.3,1195.3 1275.9,1195.3 1276.5,1195.4 1277.1,1195.4 1277.7,1195.4 1278.4,1195.4 1279.0,1195.4 1279.6,1195.4 1280.2,1195.4 1280.8,1195.4 1281.5,1195.5 1282.1,1195.5 1282.7,1195.5 1283.3,1195.5 1283.9,1195.5 1284.5,1195.5 1285.2,1195.5 1285.8,1195.5 1286.4,1195.5 1287.0,1195.5 1287.6,1195.5 1288.2,1195.5 1288.9,1195.5 1289.5,1195.5 1290.1,1195.4 1290.7,1195.4 1291.3,1195.4 1292.0,1195.4 1292.6,1195.4 1293.2,1195.3 1293.8,1195.3 1294.4,1195.3 1295.0,1195.3 1295.7,1195.2 1296.3,1195.2 1296.9,1195.2 1297.5,1195.1 1298.1,1195.1 1298.7,1195.1 1299.4,1195.0 1300.0,1195.0 1300.6,1194.9 1301.2,1194.9 1301.8,1194.9 1302.4,1194.8 1303.1,1194.8 1303.7,1194.7 1304.3,1194.7 1304.9,1194.6 1305.5,1194.6 1306.2,1194.5 1306.6,1194.5 M1315.0,1193.9 1315.7,1193.8 1316.3,1193.8 1316.9,1193.7 1317.5,1193.7 1318.1,1193.6 1318.7,1193.6 1319.4,1193.6 1320.0,1193.5 1320.6,1193.5 1321.2,1193.4 1321.8,1193.4 1322.4,1193.4 1323.1,1193.3 1323.7,1193.3 1324.3,1193.3 1324.9,1193.2 1325.5,1193.2 1326.2,1193.2 1326.8,1193.2 1327.4,1193.1 1328.0,1193.1 1328.6,1193.1 1329.2,1193.1 1329.9,1193.1 1330.5,1193.0 1331.1,1193.0 1331.7,1193.0 1332.3,1193.0 1332.9,1193.0 1333.6,1193.0 1334.2,1193.0 1334.8,1193.0 1335.4,1193.0 1336.0,1193.0 1336.6,1193.0 1337.3,1193.0 1337.9,1193.0 1338.5,1193.0 1339.1,1193.0 1339.7,1193.0 1340.4,1193.0 1341.0,1193.0 1341.6,1193.0 1342.2,1193.0 1342.8,1193.1 1343.4,1193.1 1344.1,1193.1 1344.7,1193.1 1345.3,1193.1 1345.9,1193.1 1346.5,1193.1 1347.1,1193.1 1347.8,1193.1 1348.4,1193.1 1349.0,1193.1 1349.6,1193.1 1350.2,1193.2 1350.8,1193.2 1351.5,1193.2 1352.1,1193.2 1352.5,1193.2 M1361.0,1193.4 1361.6,1193.4 1362.2,1193.4 1362.9,1193.4 1363.5,1193.4 1364.1,1193.5 1364.7,1193.5 1365.3,1193.5 1366.0,1193.5 1366.6,1193.5 1367.2,1193.5 1367.8,1193.6 1368.4,1193.6 1369.0,1193.6 1369.7,1193.6 1370.3,1193.6 1370.9,1193.6 1371.5,1193.7 1372.1,1193.7 1372.7,1193.7 1373.4,1193.7 1374.0,1193.7 1374.6,1193.7 1375.2,1193.8 1375.8,1193.8 1376.5,1193.8 1377.1,1193.8 1377.7,1193.8 1378.3,1193.9 1378.9,1193.9 1379.5,1193.9 1380.2,1193.9 1380.8,1193.9 1381.4,1193.9 1382.0,1194.0 1382.6,1194.0 1383.2,1194.0 1383.9,1194.0 1384.5,1194.1 1385.1,1194.1 1385.7,1194.1 1386.3,1194.1 1387.0,1194.2 1387.6,1194.2 1388.2,1194.2 1388.8,1194.3 1389.4,1194.3 1390.0,1194.3 1390.7,1194.4 1391.3,1194.4 1391.9,1194.4 1392.5,1194.5 1393.1,1194.5 1393.7,1194.6 1394.4,1194.6 1395.0,1194.6 1395.6,1194.7 1396.2,1194.7 1396.8,1194.8 1397.4,1194.8 1398.1,1194.9 1398.5,1194.9 M1407.0,1195.5 1407.6,1195.5 1408.2,1195.5 1408.8,1195.6 1409.4,1195.6 1410.1,1195.7 1410.7,1195.7 1411.3,1195.7 1411.9,1195.8 1412.5,1195.8 1413.1,1195.8 1413.8,1195.9 1414.4,1195.9 1415.0,1195.9 1415.6,1195.9 1416.2,1196.0 1416.9,1196.0 1417.5,1196.0 1418.1,1196.0 1418.7,1196.0 1419.3,1196.1 1419.9,1196.1 1420.6,1196.1 1421.2,1196.1 1421.8,1196.1 1422.4,1196.1 1423.0,1196.1 1423.6,1196.1 1424.3,1196.1 1424.9,1196.1 1425.5,1196.1 1426.1,1196.1 1426.7,1196.1 1427.3,1196.1 1428.0,1196.1 1428.6,1196.1 1429.2,1196.0 1429.8,1196.0 1430.4,1196.0 1431.1,1196.0 1431.7,1196.0 1432.3,1195.9 1432.9,1195.9 1433.5,1195.9 1434.1,1195.9 1434.8,1195.8 1435.4,1195.8 1436.0,1195.8 1436.6,1195.7 1437.2,1195.7 1437.8,1195.7 1438.5,1195.6 1439.1,1195.6 1439.7,1195.6 1440.3,1195.5 1440.9,1195.5 1441.6,1195.4 1442.2,1195.4 1442.8,1195.4 1443.4,1195.3 1444.0,1195.3 1444.4,1195.3 M1452.9,1194.7 1453.5,1194.6 1454.1,1194.6 1454.8,1194.6 1455.4,1194.5 1456.0,1194.5 1456.6,1194.4 1457.2,1194.4 1457.8,1194.4 1458.5,1194.3 1459.1,1194.3 1459.7,1194.3 1460.3,1194.2 1460.9,1194.2 1461.5,1194.2 1462.2,1194.2 1462.8,1194.1 1463.4,1194.1 1464.0,1194.1 1464.6,1194.1 1465.3,1194.0 1465.9,1194.0 1466.5,1194.0 1467.1,1194.0 1467.7,1194.0 1468.3,1194.0 1469.0,1194.0 1469.6,1193.9 1470.2,1193.9 1470.8,1193.9 1471.4,1193.9 1472.0,1193.9 1472.7,1193.9 1473.3,1193.9 1473.9,1193.9 1474.5,1193.9 1475.1,1193.9 1475.8,1193.9 1476.4,1194.0 1477.0,1194.0 1477.6,1194.0 1478.2,1194.0 1478.8,1194.0 1479.5,1194.0 1480.1,1194.0 1480.7,1194.0 1481.3,1194.0 1481.9,1194.0 1482.5,1194.0 1483.2,1194.0 1483.8,1194.0 1484.4,1194.0 1485.0,1194.0 1485.6,1194.0 1486.2,1194.0 1486.9,1194.1 1487.5,1194.1 1488.1,1194.1 1488.7,1194.1 1489.3,1194.1 1490.0,1194.1 1490.4,1194.1 M1498.9,1194.3 1499.5,1194.3 1500.1,1194.3 1500.8,1194.3 1501.4,1194.3 1502.0,1194.3 1502.6,1194.3 1503.2,1194.3 1503.8,1194.3 1504.5,1194.4 1505.1,1194.4 1505.7,1194.4 1506.3,1194.4 1506.9,1194.4 1507.6,1194.4 1508.2,1194.4 1508.8,1194.4 1509.4,1194.5 1510.0,1194.5 1510.6,1194.5 1511.3,1194.5 1511.9,1194.5 1512.5,1194.5 1513.1,1194.5 1513.7,1194.5 1514.3,1194.6 1515.0,1194.6 1515.6,1194.6 1516.2,1194.6 1516.8,1194.6 1517.4,1194.6 1518.0,1194.7 1518.7,1194.7 1519.3,1194.7 1519.9,1194.7 1520.5,1194.7 1521.1,1194.7 1521.8,1194.8 1522.4,1194.8 1523.0,1194.8 1523.6,1194.8 1524.2,1194.9 1524.8,1194.9 1525.5,1194.9 1526.1,1194.9 1526.7,1195.0 1527.3,1195.0 1527.9,1195.0 1528.5,1195.0 1529.2,1195.1 1529.8,1195.1 1530.4,1195.1 1531.0,1195.1 1531.6,1195.2 1532.3,1195.2 1532.9,1195.2 1533.5,1195.3 1534.1,1195.3 1534.7,1195.3 1535.3,1195.3 1536.0,1195.4 1536.4,1195.4 M1544.9,1195.7 1545.5,1195.8 1546.1,1195.8 1546.7,1195.8 1547.3,1195.8 1548.0,1195.9 1548.6,1195.9 1549.2,1195.9 1549.8,1195.9 1550.4,1195.9 1551.0,1195.9 1551.7,1196.0 1552.3,1196.0 1552.9,1196.0 1553.5,1196.0 1554.1,1196.0 1554.7,1196.0 1555.4,1196.1 1556.0,1196.1 1556.6,1196.1 1557.2,1196.1 1557.8,1196.1 1558.4,1196.1 1559.1,1196.1 1559.7,1196.1 1560.3,1196.1 1560.9,1196.1 1561.5,1196.1 1562.2,1196.1 1562.8,1196.1 1563.4,1196.1 1564.0,1196.1 1564.6,1196.1 1565.2,1196.1 1565.9,1196.1 1566.5,1196.1 1567.1,1196.0 1567.7,1196.0 1568.3,1196.0 1568.9,1196.0 1569.6,1196.0 1570.2,1196.0 1570.8,1195.9 1571.4,1195.9 1572.0,1195.9 1572.7,1195.9 1573.3,1195.8 1573.9,1195.8 1574.5,1195.8 1575.1,1195.8 1575.7,1195.7 1576.4,1195.7 1577.0,1195.7 1577.6,1195.6 1578.2,1195.6 1578.8,1195.6 1579.4,1195.5 1580.1,1195.5 1580.7,1195.5 1581.3,1195.4 1581.9,1195.4 1582.4,1195.4 M1590.8,1194.9 1591.5,1194.9 1592.1,1194.9 1592.7,1194.8 1593.3,1194.8 1593.9,1194.8 1594.5,1194.8 1595.2,1194.7 1595.8,1194.7 1596.4,1194.7 1597.0,1194.7 1597.6,1194.7 1598.3,1194.6 1598.9,1194.6 1599.5,1194.6 1600.1,1194.6 1600.7,1194.6 1601.3,1194.6 1602.0,1194.6 1602.6,1194.6 1603.2,1194.6 1603.8,1194.6 1604.4,1194.6 1605.0,1194.6 1605.7,1194.6 1606.3,1194.6 1606.9,1194.6 1607.5,1194.6 1608.1,1194.6 1608.8,1194.6 1609.4,1194.6 1610.0,1194.6 1610.6,1194.6 1611.2,1194.6 1611.8,1194.6 1612.5,1194.6 1613.1,1194.6 1613.7,1194.6 1614.3,1194.6 1614.9,1194.6 1615.5,1194.6 1616.2,1194.6 1616.8,1194.6 1617.4,1194.6 1618.0,1194.6 1618.6,1194.6 1619.2,1194.6 1619.9,1194.6 1620.5,1194.6 1621.1,1194.6 1621.7,1194.6 1622.3,1194.6 1623.0,1194.6 1623.6,1194.6 1624.2,1194.6 1624.8,1194.6 1625.4,1194.6 1626.0,1194.6 1626.7,1194.6 1627.3,1194.6 1627.9,1194.6 1628.3,1194.6 M1636.8,1194.6 1637.5,1194.6 1638.1,1194.6 1638.7,1194.6 1639.3,1194.6 1639.9,1194.6 1640.6,1194.6 1641.2,1194.6 1641.8,1194.6 1642.4,1194.6 1642.5,1194.6" stroke="#000" stroke-width="6"/>
</g>
<g font-size="63.5">
<text x="153.59 181.85 222.70 260.45" y="1288.17 1284.20 1284.20 1284.20"><tspan font-size="87">-</tspan>150</text>
<text x="390.64 419.90 458.35 497.45" y="1288.17 1284.20 1284.20 1284.20"><tspan font-size="87">-</tspan>100</text>
<text x="645.85 676.05 713.50" y="1288.17 1284.20 1284.20"><tspan font-size="87">-</tspan>50</text>
<text x="911.30" y="1284.2">0</text>
<text x="1132.20 1171.75" y="1284.2">50</text>
<text x="1353.00 1391.45 1430.55" y="1284.2">100</text>
<text x="1591.25 1629.95 1669.00" y="1284.2">150</text>
<text x="160.90" y="1224.05">0</text>
<text x="110.60 150.10 173.30" y="1068.66">0.5</text>
<text x="160.60" y="913.27">1</text>
<text x="109.60 150.10 173.30" y="757.88">1.5</text>
<text x="161.00" y="602.49">2</text>
<text x="111.60 150.10 173.30" y="447.10">2.5</text>
<text x="159.50" y="291.71">3</text>
<text x="110.10 150.10 173.30" y="136.32">3.5</text>
</g>
<text x="217.3 265.25 304.15 335.35 357.8 387.65" y="95.2 96 96 67.4 65 65" font-size="63.5"><tspan font-size="63">x</tspan>10<tspan font-size="62.5">-</tspan><tspan font-size="50">10</tspan></text>
<g transform="translate(82,1289.2) rotate(-90)">
<text id="yl1" font-size="55.5" x="0" y="0" textLength="1034" lengthAdjust="spacing">Magnitude of Wavenumber Spectrum</text>
<text font-size="55.5" x="1052" y="0">(m<tspan font-size="50" dx="3.8" dy="-23">2</tspan><tspan dx="2.4" dy="23">)</tspan></text>
</g>
<text font-size="56.5" x="613.5" y="1372.2" textLength="601" lengthAdjust="spacing">Wavenumber (rad/m)</text>
<g>
<rect x="766.5" y="147.5" width="1050" height="222.9" fill="#fff" stroke="none"/>
<path d="M765,144.3H1818M765,370.4H1818" stroke="#5e5e5e" stroke-width="2.8"/>
<path d="M766.5,142.9V371.8M1816.6,142.9V371.8" stroke="#727272" stroke-width="2.8"/>
<path d="M778,185.9H911" stroke="#adadad" stroke-width="6.3"/>
<path d="M778,257.7H805.5M831.2,257.7H858.4M882.7,257.7H911" stroke="#ff0000" stroke-width="6.3"/>
<path d="M778,326.6H818.5M825,326.6H864M870.5,326.6H911" stroke="#000" stroke-width="6.3"/>
<g font-size="55" class="lg">
<text x="921" y="207.9" textLength="230.6" lengthAdjust="spacing">Baseline</text>
<text x="919.5" y="276.1" textLength="870" lengthAdjust="spacing">Frequency-Matched Resonators</text>
<text x="917" y="342">Clamping Resonators</text>
</g>
</g>
</svg>
</body></html>
